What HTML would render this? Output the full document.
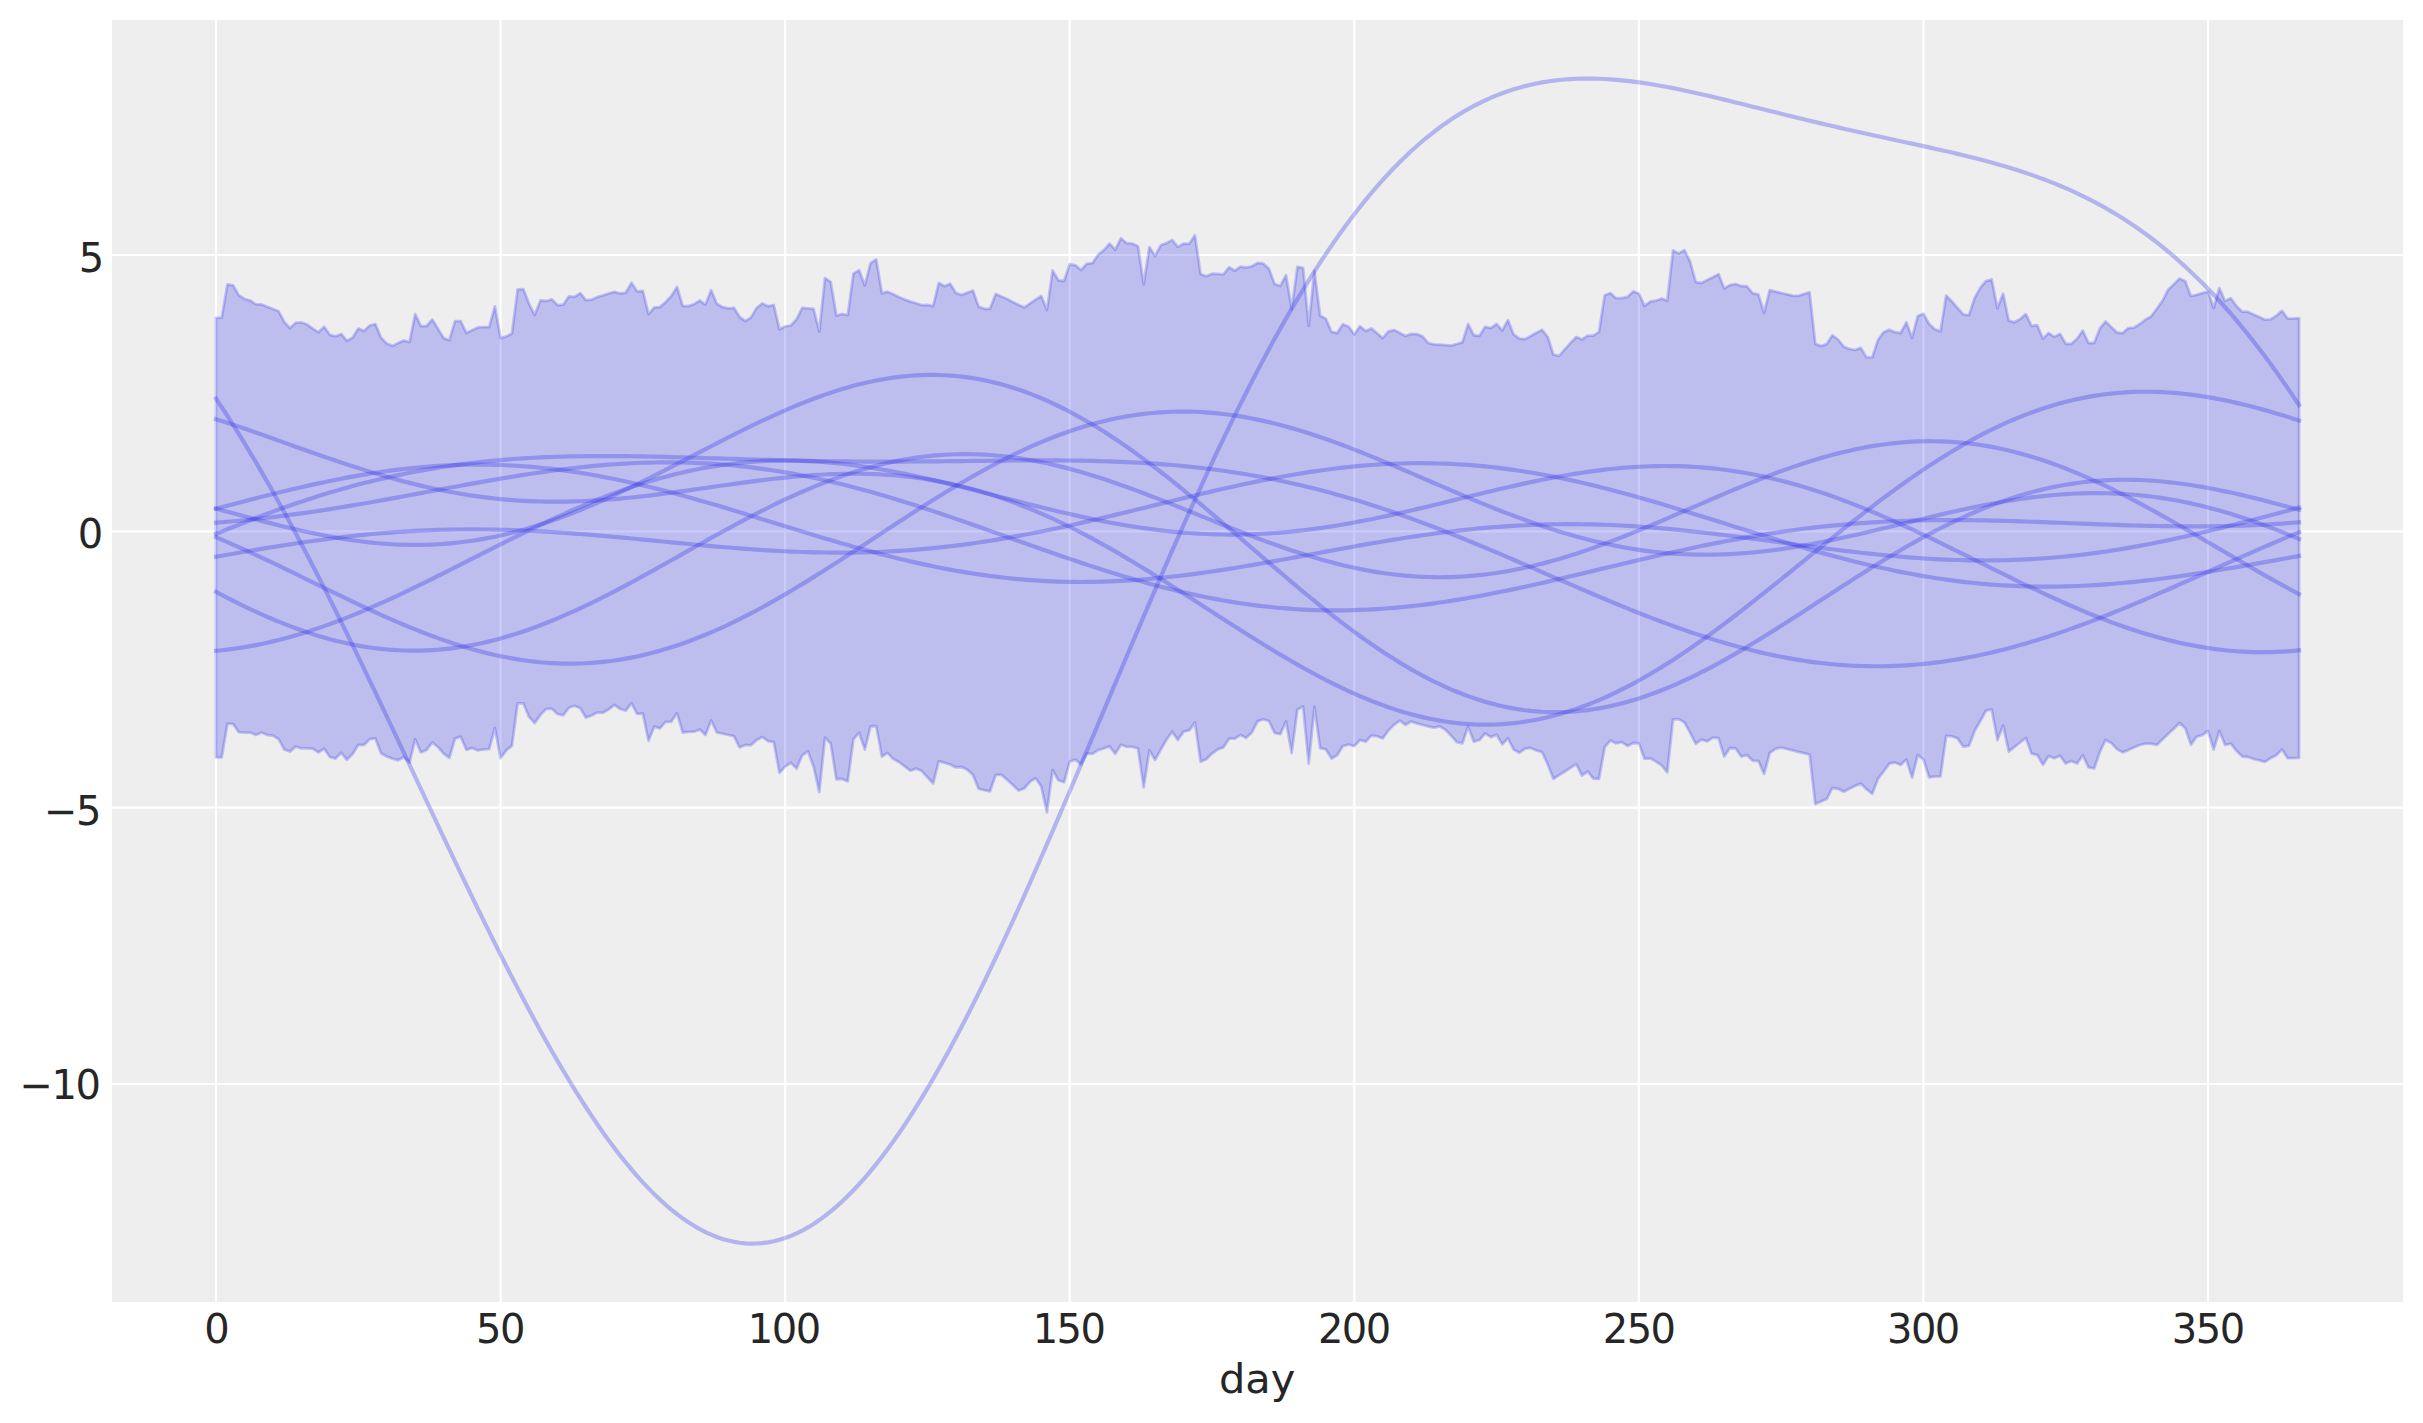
<!DOCTYPE html>
<html><head><meta charset="utf-8"><title>day plot</title>
<style>html,body{margin:0;padding:0;background:#fff;} svg{display:block;}</style>
</head><body>
<svg xmlns="http://www.w3.org/2000/svg" width="2423" height="1423" viewBox="0 0 2423 1423">
<rect x="0" y="0" width="2423" height="1423" fill="#ffffff"/>
<rect x="112" y="20" width="2291" height="1282" fill="#eeeeee"/>
<line x1="216" y1="20" x2="216" y2="1302" stroke="#ffffff" stroke-width="2.2"/>
<line x1="500.57" y1="20" x2="500.57" y2="1302" stroke="#ffffff" stroke-width="2.2"/>
<line x1="785.14" y1="20" x2="785.14" y2="1302" stroke="#ffffff" stroke-width="2.2"/>
<line x1="1069.71" y1="20" x2="1069.71" y2="1302" stroke="#ffffff" stroke-width="2.2"/>
<line x1="1354.29" y1="20" x2="1354.29" y2="1302" stroke="#ffffff" stroke-width="2.2"/>
<line x1="1638.86" y1="20" x2="1638.86" y2="1302" stroke="#ffffff" stroke-width="2.2"/>
<line x1="1923.43" y1="20" x2="1923.43" y2="1302" stroke="#ffffff" stroke-width="2.2"/>
<line x1="2208" y1="20" x2="2208" y2="1302" stroke="#ffffff" stroke-width="2.2"/>
<line x1="112" y1="255" x2="2403" y2="255" stroke="#ffffff" stroke-width="2.2"/>
<line x1="112" y1="531.33" x2="2403" y2="531.33" stroke="#ffffff" stroke-width="2.2"/>
<line x1="112" y1="807.67" x2="2403" y2="807.67" stroke="#ffffff" stroke-width="2.2"/>
<line x1="112" y1="1084" x2="2403" y2="1084" stroke="#ffffff" stroke-width="2.2"/>
<path d="M216 317.9 L221.69 317.7 L227.38 284.4 L233.07 285.3 L238.77 295.2 L244.46 298.9 L250.15 300.5 L255.84 304.3 L261.53 304.5 L267.22 306.7 L272.91 309 L278.61 311.3 L284.3 322 L289.99 328.2 L295.68 322.8 L301.37 322.4 L307.06 324.5 L312.75 328.6 L318.45 332.3 L324.14 326.8 L329.83 334.8 L335.52 336.4 L341.21 334 L346.9 340.8 L352.59 337.7 L358.29 328.6 L363.98 330.9 L369.67 325.5 L375.36 324.1 L381.05 337.7 L386.74 343.5 L392.43 345.9 L398.13 343 L403.82 340.6 L409.51 342.2 L415.2 314.2 L420.89 326.1 L426.58 326 L432.27 319.5 L437.97 328.8 L443.66 338.1 L449.35 340.2 L455.04 321.2 L460.73 321.2 L466.42 333.1 L472.11 330.3 L477.81 327.4 L483.5 327.1 L489.19 327 L494.88 306.3 L500.57 338.1 L506.26 336.4 L511.95 333.6 L517.65 289.4 L523.34 289.1 L529.03 303.8 L534.72 315 L540.41 300.5 L546.1 301 L551.79 299.3 L557.49 305.1 L563.18 304.7 L568.87 296.4 L574.56 296.8 L580.25 293.1 L585.94 300.1 L591.63 299.7 L597.33 297 L603.02 295.4 L608.71 293.5 L614.4 291.8 L620.09 293.5 L625.78 292.7 L631.47 282.7 L637.17 291.4 L642.86 291 L648.55 314.1 L654.24 307.5 L659.93 307.1 L665.62 302.1 L671.31 296 L677.01 286.9 L682.7 305.9 L688.39 306.1 L694.08 304.2 L699.77 300.5 L705.46 304.6 L711.15 290.2 L716.85 303.8 L722.54 307.1 L728.23 308.3 L733.92 307.8 L739.61 317 L745.3 321.1 L750.99 317.4 L756.69 307.9 L762.38 303.4 L768.07 306.3 L773.76 305 L779.45 329.3 L785.14 326.45 L790.83 325.5 L796.53 319.3 L802.22 307.8 L807.91 308.4 L813.6 309 L819.29 331.7 L824.98 278.1 L830.67 281.8 L836.37 315.6 L842.06 314 L847.75 315.2 L853.44 273.5 L859.13 270.2 L864.82 285.5 L870.51 263.2 L876.21 259.5 L881.9 293.3 L887.59 291.7 L893.28 294.2 L898.97 296.9 L904.66 299.5 L910.35 301.6 L916.05 303.2 L921.74 305.1 L927.43 304.9 L933.12 306.1 L938.81 283 L944.5 286.3 L950.19 283.8 L955.89 292.9 L961.58 295 L967.27 292.8 L972.96 290.5 L978.65 306.65 L984.34 308.8 L990.03 308.8 L995.73 293.9 L1001.42 296.6 L1007.11 299.1 L1012.8 301.9 L1018.49 304.7 L1024.18 307.5 L1029.87 303.6 L1035.57 299.7 L1041.26 296 L1046.95 310 L1052.64 270.4 L1058.33 280.3 L1064.02 281 L1069.71 264.2 L1075.41 265.3 L1081.1 270 L1086.79 263.8 L1092.48 263.1 L1098.17 254.7 L1103.86 250.2 L1109.55 243.6 L1115.25 249.8 L1120.94 238.2 L1126.63 243.2 L1132.32 243.6 L1138.01 246.3 L1143.7 284.4 L1149.39 247.1 L1155.09 256 L1160.78 245.2 L1166.47 243.15 L1172.16 239.9 L1177.85 246.9 L1183.54 243.6 L1189.23 243.8 L1194.93 235.3 L1200.62 274.1 L1206.31 276.2 L1212 273.7 L1217.69 273.9 L1223.38 274.4 L1229.07 267.3 L1234.77 270.8 L1240.46 266.7 L1246.15 267.5 L1251.84 266.3 L1257.53 263 L1263.22 263.4 L1268.91 268.7 L1274.61 284 L1280.3 285.95 L1285.99 275.3 L1291.68 309.1 L1297.37 267 L1303.06 267.8 L1308.75 325.9 L1314.45 270.95 L1320.14 315.8 L1325.83 318.7 L1331.52 331.8 L1337.21 333.1 L1342.9 324.2 L1348.59 326.7 L1354.29 334.3 L1359.98 326.3 L1365.67 330.9 L1371.36 328.4 L1377.05 333.3 L1382.74 338.1 L1388.43 331.4 L1394.13 330.1 L1399.82 333.1 L1405.51 336 L1411.2 333.9 L1416.89 334.1 L1422.58 336.4 L1428.27 343.2 L1433.97 344.3 L1439.66 344.6 L1445.35 345.1 L1451.04 345.7 L1456.73 344 L1462.42 342.3 L1468.11 324.2 L1473.81 335.25 L1479.5 335.85 L1485.19 326.8 L1490.88 328.1 L1496.57 323.9 L1502.26 330.6 L1507.95 320.1 L1513.65 334.4 L1519.34 338.6 L1525.03 339.1 L1530.72 336 L1536.41 332.7 L1542.1 329.8 L1547.79 337 L1553.49 354.7 L1559.18 355.9 L1564.87 349.2 L1570.56 342.9 L1576.25 337 L1581.94 339.5 L1587.63 335.7 L1593.33 335.7 L1599.02 331.9 L1604.71 295.2 L1610.4 293.1 L1616.09 298.2 L1621.78 298.2 L1627.47 296.9 L1633.17 291.4 L1638.86 293.5 L1644.55 305.8 L1650.24 301.6 L1655.93 300.7 L1661.62 298.6 L1667.31 300.7 L1673.01 250.5 L1678.7 253.5 L1684.39 250.1 L1690.08 261.5 L1695.77 282.2 L1701.46 283 L1707.15 280.1 L1712.85 277.2 L1718.54 274.1 L1724.23 288.5 L1729.92 285.1 L1735.61 284 L1741.3 286 L1746.99 286.5 L1752.69 293.3 L1758.38 294.4 L1764.07 312.9 L1769.76 290.2 L1775.45 291.6 L1781.14 293 L1786.83 294.3 L1792.53 295.6 L1798.22 295.8 L1803.91 294 L1809.6 292.3 L1815.29 343.7 L1820.98 346.1 L1826.67 344.1 L1832.37 335.3 L1838.06 339.5 L1843.75 346.7 L1849.44 348.95 L1855.13 350 L1860.82 347.9 L1866.51 357.4 L1872.21 357.4 L1877.9 340.1 L1883.59 332.2 L1889.28 329.7 L1894.97 332.2 L1900.66 333 L1906.35 322.3 L1912.05 338 L1917.74 316.1 L1923.43 313.7 L1929.12 324 L1934.81 329.3 L1940.5 331.4 L1946.19 295.5 L1951.89 301.5 L1957.58 307.9 L1963.27 314.5 L1968.96 315.1 L1974.65 298 L1980.34 287.7 L1986.03 281 L1991.73 279.4 L1997.42 308.3 L2003.11 293.8 L2008.8 320.7 L2014.49 322.3 L2020.18 319 L2025.87 314.1 L2031.57 326 L2037.26 325.2 L2042.95 338.8 L2048.64 333.1 L2054.33 336.8 L2060.02 333.9 L2065.71 343.8 L2071.41 343.8 L2077.1 338.8 L2082.79 330.6 L2088.48 343 L2094.17 343 L2099.86 328.5 L2105.55 321.5 L2111.25 327 L2116.94 332.6 L2122.63 333.1 L2128.32 328.1 L2134.01 327.7 L2139.7 324 L2145.39 319.8 L2151.09 316.5 L2156.78 308.7 L2162.47 300.9 L2168.16 289.7 L2173.85 284.3 L2179.54 278.6 L2185.23 281.15 L2190.93 296.15 L2196.62 294.85 L2202.31 293.05 L2208 291.75 L2213.69 308.05 L2219.38 288.15 L2225.07 301.05 L2230.77 298.2 L2236.46 306 L2242.15 311.7 L2247.84 311.7 L2253.53 314.4 L2259.22 317.1 L2264.91 319.7 L2270.61 319.4 L2276.3 315.7 L2281.99 310.8 L2287.68 318.6 L2293.37 318.6 L2299.06 318.1 L2299.06 757.8 L2293.37 758.2 L2287.68 758.2 L2281.99 749.5 L2276.3 755.3 L2270.61 758.2 L2264.91 761.9 L2259.22 760.3 L2253.53 759 L2247.84 757 L2242.15 756.5 L2236.46 750.8 L2230.77 743.7 L2225.07 745 L2219.38 731 L2213.69 749.5 L2208 731 L2202.31 735.1 L2196.62 736.7 L2190.93 744.6 L2185.23 728.1 L2179.54 723.1 L2173.85 728.7 L2168.16 734 L2162.47 739.6 L2156.78 745 L2151.09 743.7 L2145.39 743.7 L2139.7 745 L2134.01 747.6 L2128.32 750.1 L2122.63 752.4 L2116.94 749.1 L2111.25 742.9 L2105.55 740 L2099.86 752 L2094.17 768.5 L2088.48 767.3 L2082.79 755.3 L2077.1 763.6 L2071.41 761.1 L2065.71 763.6 L2060.02 755.7 L2054.33 758.2 L2048.64 756.1 L2042.95 764.8 L2037.26 754.9 L2031.57 753.7 L2025.87 738 L2020.18 742.5 L2014.49 747 L2008.8 751.6 L2003.11 725.6 L1997.42 740 L1991.73 709.5 L1986.03 710.7 L1980.34 721 L1974.65 731 L1968.96 745.8 L1963.27 746.6 L1957.58 738.4 L1951.89 736.3 L1946.19 735.9 L1940.5 776.4 L1934.81 776.6 L1929.12 777.25 L1923.43 759.45 L1917.74 755 L1912.05 777.7 L1906.35 759.5 L1900.66 764.9 L1894.97 762.4 L1889.28 763.7 L1883.59 771.5 L1877.9 778.9 L1872.21 793.8 L1866.51 789.2 L1860.82 783.5 L1855.13 785.9 L1849.44 788.8 L1843.75 791.7 L1838.06 788.8 L1832.37 788 L1826.67 799.1 L1820.98 801.6 L1815.29 804.1 L1809.6 754.6 L1803.91 753.2 L1798.22 751.8 L1792.53 750.4 L1786.83 749 L1781.14 747.6 L1775.45 748.8 L1769.76 752.9 L1764.07 774 L1758.38 760.8 L1752.69 760.8 L1746.99 755 L1741.3 756.6 L1735.61 748.4 L1729.92 748 L1724.23 756.6 L1718.54 738.1 L1712.85 737.7 L1707.15 741.4 L1701.46 739.7 L1695.77 743.8 L1690.08 732.7 L1684.39 722.4 L1678.7 719.1 L1673.01 719.5 L1667.31 772.3 L1661.62 765.3 L1655.93 761.6 L1650.24 758.3 L1644.55 758.7 L1638.86 743.4 L1633.17 743 L1627.47 745.9 L1621.78 742.2 L1616.09 743.4 L1610.4 740.5 L1604.71 747.1 L1599.02 778.9 L1593.33 778.5 L1587.63 771.5 L1581.94 775.6 L1576.25 764.1 L1570.56 767.8 L1564.87 771.5 L1559.18 775.1 L1553.49 778.9 L1547.79 764.45 L1542.1 752.25 L1536.41 750.4 L1530.72 747.9 L1525.03 748.7 L1519.34 752.8 L1513.65 749.5 L1507.95 738.4 L1502.26 744.2 L1496.57 734.7 L1490.88 737.1 L1485.19 733.4 L1479.5 740 L1473.81 741.7 L1468.11 726.4 L1462.42 743.3 L1456.73 742.1 L1451.04 735.7 L1445.35 729.7 L1439.66 726.4 L1433.97 727.7 L1428.27 726.4 L1422.58 724.8 L1416.89 723.4 L1411.2 721.5 L1405.51 724.8 L1399.82 720.6 L1394.13 724.8 L1388.43 730.5 L1382.74 738.4 L1377.05 736.3 L1371.36 735.5 L1365.67 741.7 L1359.98 740 L1354.29 746.15 L1348.59 744.5 L1342.9 746.1 L1337.21 755.2 L1331.52 758.5 L1325.83 749.4 L1320.14 748.2 L1314.45 706.9 L1308.75 763.5 L1303.06 706.5 L1297.37 709.8 L1291.68 753.1 L1285.99 721.4 L1280.3 734.2 L1274.61 732.9 L1268.91 721 L1263.22 719.3 L1257.53 721.4 L1251.84 732.5 L1246.15 737.9 L1240.46 735 L1234.77 738.7 L1229.07 738.7 L1223.38 747.4 L1217.69 749.4 L1212 753.6 L1206.31 759.3 L1200.62 761.8 L1194.93 722.6 L1189.23 730.4 L1183.54 731.7 L1177.85 739.9 L1172.16 731.7 L1166.47 739.7 L1160.78 749.6 L1155.09 760 L1149.39 750.5 L1143.7 787.3 L1138.01 748.5 L1132.32 746.8 L1126.63 746.8 L1120.94 744.8 L1115.25 753.8 L1109.55 746.4 L1103.86 748.5 L1098.17 750.1 L1092.48 753.8 L1086.79 753.4 L1081.1 764.6 L1075.41 759.6 L1069.71 761.7 L1064.02 782.3 L1058.33 780.3 L1052.64 769.9 L1046.95 812.4 L1041.26 786.4 L1035.57 778.2 L1029.87 781.9 L1024.18 788.5 L1018.49 790.6 L1012.8 785 L1007.11 779.8 L1001.42 774.9 L995.73 774.9 L990.03 791.4 L984.34 790.2 L978.65 788.85 L972.96 775.05 L967.27 769.8 L961.58 767 L955.89 767.4 L950.19 764.5 L944.5 762.8 L938.81 761.2 L933.12 783.5 L927.43 777.2 L921.74 771.1 L916.05 768.6 L910.35 770.7 L904.66 766.4 L898.97 762 L893.28 759.1 L887.59 752.9 L881.9 756.6 L876.21 726.1 L870.51 726.5 L864.82 749.6 L859.13 732.7 L853.44 739.3 L847.75 781.4 L842.06 778.9 L836.37 779.3 L830.67 743.4 L824.98 737.7 L819.29 792.1 L813.6 766.5 L807.91 751.3 L802.22 755.4 L796.53 768.6 L790.83 762.8 L785.14 766.65 L779.45 772.85 L773.76 742 L768.07 741.2 L762.38 737 L756.69 739.9 L750.99 745.3 L745.3 744.9 L739.61 747.4 L733.92 736.2 L728.23 735 L722.54 733.7 L716.85 732.5 L711.15 720.5 L705.46 735 L699.77 729.6 L694.08 731.7 L688.39 731.9 L682.7 732.5 L677.01 713.1 L671.31 721.8 L665.62 721.8 L659.93 728.4 L654.24 726.7 L648.55 740.8 L642.86 713.5 L637.17 713.9 L631.47 703.2 L625.78 710.6 L620.09 709 L614.4 704.9 L608.71 709.4 L603.02 712.7 L597.33 712.55 L591.63 715.45 L585.94 717.7 L580.25 708.3 L574.56 705.8 L568.87 707.8 L563.18 715.3 L557.49 714 L551.79 708.7 L546.1 709.1 L540.41 714.9 L534.72 723.1 L529.03 716.9 L523.34 703.3 L517.65 703.3 L511.95 745.8 L506.26 750.4 L500.57 758.2 L494.88 728.1 L489.19 749.1 L483.5 749.5 L477.81 750.4 L472.11 747.9 L466.42 749.9 L460.73 736.7 L455.04 738.4 L449.35 757.8 L443.66 753.7 L437.97 747 L432.27 742.5 L426.58 749.9 L420.89 752.4 L415.2 739.2 L409.51 762.7 L403.82 757 L398.13 760.3 L392.43 758.6 L386.74 756.5 L381.05 753.2 L375.36 738.4 L369.67 739.2 L363.98 745 L358.29 745 L352.59 754.1 L346.9 759.8 L341.21 752.8 L335.52 758.6 L329.83 757 L324.14 748.7 L318.45 752.4 L312.75 748.7 L307.06 748.3 L301.37 748.3 L295.68 746.6 L289.99 751.6 L284.3 749.5 L278.61 739.2 L272.91 735.5 L267.22 735.1 L261.53 732.6 L255.84 735.1 L250.15 732.6 L244.46 732.6 L238.77 732.2 L233.07 723.9 L227.38 723.9 L221.69 757.4 L216 757.4 Z" fill="rgba(42,46,236,0.25)" stroke="rgba(42,46,236,0.25)" stroke-width="2.78" stroke-linejoin="round"/>
<path d="M216 398.6 L221.69 407.19 L227.38 415.95 L233.07 424.87 L238.77 433.96 L244.46 443.21 L250.15 452.62 L255.84 462.18 L261.53 471.9 L267.22 481.77 L272.91 491.78 L278.61 501.94 L284.3 512.24 L289.99 522.67 L295.68 533.24 L301.37 543.94 L307.06 554.76 L312.75 565.69 L318.45 576.75 L324.14 587.91 L329.83 599.18 L335.52 610.55 L341.21 622.01 L346.9 633.56 L352.59 645.2 L358.29 656.91 L363.98 668.69 L369.67 680.53 L375.36 692.44 L381.05 704.39 L386.74 716.4 L392.43 728.43 L398.13 740.51 L403.82 752.6 L409.51 764.71 L415.2 776.84 L420.89 788.96 L426.58 801.08 L432.27 813.19 L437.97 825.28 L443.66 837.35 L449.35 849.37 L455.04 861.36 L460.73 873.29 L466.42 885.17 L472.11 896.98 L477.81 908.72 L483.5 920.37 L489.19 931.94 L494.88 943.41 L500.57 954.77 L506.26 966.02 L511.95 977.14 L517.65 988.14 L523.34 999 L529.03 1009.72 L534.72 1020.28 L540.41 1030.69 L546.1 1040.92 L551.79 1050.98 L557.49 1060.86 L563.18 1070.55 L568.87 1080.04 L574.56 1089.32 L580.25 1098.4 L585.94 1107.25 L591.63 1115.88 L597.33 1124.28 L603.02 1132.44 L608.71 1140.36 L614.4 1148.02 L620.09 1155.43 L625.78 1162.57 L631.47 1169.44 L637.17 1176.04 L642.86 1182.36 L648.55 1188.4 L654.24 1194.14 L659.93 1199.59 L665.62 1204.74 L671.31 1209.59 L677.01 1214.13 L682.7 1218.36 L688.39 1222.27 L694.08 1225.86 L699.77 1229.13 L705.46 1232.07 L711.15 1234.69 L716.85 1236.98 L722.54 1238.93 L728.23 1240.54 L733.92 1241.82 L739.61 1242.76 L745.3 1243.36 L750.99 1243.62 L756.69 1243.54 L762.38 1243.12 L768.07 1242.35 L773.76 1241.24 L779.45 1239.78 L785.14 1237.99 L790.83 1235.85 L796.53 1233.38 L802.22 1230.56 L807.91 1227.41 L813.6 1223.92 L819.29 1220.09 L824.98 1215.94 L830.67 1211.46 L836.37 1206.65 L842.06 1201.51 L847.75 1196.06 L853.44 1190.29 L859.13 1184.21 L864.82 1177.81 L870.51 1171.12 L876.21 1164.12 L881.9 1156.83 L887.59 1149.24 L893.28 1141.37 L898.97 1133.22 L904.66 1124.8 L910.35 1116.11 L916.05 1107.15 L921.74 1097.93 L927.43 1088.47 L933.12 1078.75 L938.81 1068.81 L944.5 1058.62 L950.19 1048.22 L955.89 1037.59 L961.58 1026.76 L967.27 1015.72 L972.96 1004.49 L978.65 993.07 L984.34 981.46 L990.03 969.69 L995.73 957.75 L1001.42 945.65 L1007.11 933.4 L1012.8 921.02 L1018.49 908.49 L1024.18 895.85 L1029.87 883.09 L1035.57 870.22 L1041.26 857.25 L1046.95 844.19 L1052.64 831.05 L1058.33 817.83 L1064.02 804.55 L1069.71 791.21 L1075.41 777.82 L1081.1 764.39 L1086.79 750.93 L1092.48 737.45 L1098.17 723.95 L1103.86 710.44 L1109.55 696.93 L1115.25 683.43 L1120.94 669.95 L1126.63 656.5 L1132.32 643.07 L1138.01 629.69 L1143.7 616.36 L1149.39 603.08 L1155.09 589.87 L1160.78 576.73 L1166.47 563.66 L1172.16 550.68 L1177.85 537.8 L1183.54 525.01 L1189.23 512.33 L1194.93 499.76 L1200.62 487.31 L1206.31 474.98 L1212 462.79 L1217.69 450.73 L1223.38 438.82 L1229.07 427.05 L1234.77 415.44 L1240.46 403.98 L1246.15 392.69 L1251.84 381.57 L1257.53 370.62 L1263.22 359.85 L1268.91 349.26 L1274.61 338.85 L1280.3 328.63 L1285.99 318.61 L1291.68 308.78 L1297.37 299.15 L1303.06 289.72 L1308.75 280.49 L1314.45 271.47 L1320.14 262.66 L1325.83 254.06 L1331.52 245.68 L1337.21 237.5 L1342.9 229.55 L1348.59 221.81 L1354.29 214.28 L1359.98 206.98 L1365.67 199.89 L1371.36 193.03 L1377.05 186.38 L1382.74 179.95 L1388.43 173.74 L1394.13 167.74 L1399.82 161.97 L1405.51 156.41 L1411.2 151.06 L1416.89 145.93 L1422.58 141.01 L1428.27 136.31 L1433.97 131.81 L1439.66 127.51 L1445.35 123.43 L1451.04 119.54 L1456.73 115.85 L1462.42 112.37 L1468.11 109.07 L1473.81 105.97 L1479.5 103.05 L1485.19 100.32 L1490.88 97.78 L1496.57 95.41 L1502.26 93.21 L1507.95 91.19 L1513.65 89.33 L1519.34 87.64 L1525.03 86.1 L1530.72 84.72 L1536.41 83.5 L1542.1 82.42 L1547.79 81.48 L1553.49 80.68 L1559.18 80.02 L1564.87 79.49 L1570.56 79.08 L1576.25 78.79 L1581.94 78.62 L1587.63 78.56 L1593.33 78.61 L1599.02 78.76 L1604.71 79.02 L1610.4 79.36 L1616.09 79.8 L1621.78 80.32 L1627.47 80.92 L1633.17 81.6 L1638.86 82.36 L1644.55 83.18 L1650.24 84.06 L1655.93 85.01 L1661.62 86.01 L1667.31 87.06 L1673.01 88.16 L1678.7 89.3 L1684.39 90.49 L1690.08 91.71 L1695.77 92.97 L1701.46 94.25 L1707.15 95.56 L1712.85 96.9 L1718.54 98.25 L1724.23 99.63 L1729.92 101.01 L1735.61 102.41 L1741.3 103.82 L1746.99 105.24 L1752.69 106.66 L1758.38 108.08 L1764.07 109.5 L1769.76 110.92 L1775.45 112.34 L1781.14 113.75 L1786.83 115.16 L1792.53 116.55 L1798.22 117.94 L1803.91 119.32 L1809.6 120.69 L1815.29 122.05 L1820.98 123.4 L1826.67 124.74 L1832.37 126.06 L1838.06 127.37 L1843.75 128.67 L1849.44 129.96 L1855.13 131.24 L1860.82 132.51 L1866.51 133.77 L1872.21 135.02 L1877.9 136.26 L1883.59 137.5 L1889.28 138.74 L1894.97 139.97 L1900.66 141.2 L1906.35 142.43 L1912.05 143.66 L1917.74 144.89 L1923.43 146.14 L1929.12 147.39 L1934.81 148.66 L1940.5 149.94 L1946.19 151.23 L1951.89 152.55 L1957.58 153.89 L1963.27 155.25 L1968.96 156.65 L1974.65 158.07 L1980.34 159.53 L1986.03 161.04 L1991.73 162.58 L1997.42 164.17 L2003.11 165.81 L2008.8 167.5 L2014.49 169.24 L2020.18 171.05 L2025.87 172.93 L2031.57 174.87 L2037.26 176.88 L2042.95 178.97 L2048.64 181.13 L2054.33 183.39 L2060.02 185.72 L2065.71 188.15 L2071.41 190.68 L2077.1 193.3 L2082.79 196.02 L2088.48 198.86 L2094.17 201.8 L2099.86 204.85 L2105.55 208.03 L2111.25 211.32 L2116.94 214.74 L2122.63 218.28 L2128.32 221.96 L2134.01 225.77 L2139.7 229.72 L2145.39 233.81 L2151.09 238.04 L2156.78 242.42 L2162.47 246.95 L2168.16 251.63 L2173.85 256.46 L2179.54 261.45 L2185.23 266.6 L2190.93 271.91 L2196.62 277.38 L2202.31 283.02 L2208 288.83 L2213.69 294.8 L2219.38 300.94 L2225.07 307.26 L2230.77 313.74 L2236.46 320.4 L2242.15 327.22 L2247.84 334.23 L2253.53 341.4 L2259.22 348.75 L2264.91 356.27 L2270.61 363.97 L2276.3 371.84 L2281.99 379.88 L2287.68 388.09 L2293.37 396.47 L2299.06 405.02" fill="none" stroke="rgba(42,46,236,0.3)" stroke-width="4.17" stroke-linejoin="round" stroke-linecap="square"/>
<path d="M216 419.11 L221.69 420.94 L227.38 422.81 L233.07 424.71 L238.77 426.63 L244.46 428.58 L250.15 430.55 L255.84 432.53 L261.53 434.53 L267.22 436.54 L272.91 438.56 L278.61 440.59 L284.3 442.62 L289.99 444.65 L295.68 446.68 L301.37 448.7 L307.06 450.72 L312.75 452.72 L318.45 454.72 L324.14 456.69 L329.83 458.65 L335.52 460.59 L341.21 462.5 L346.9 464.39 L352.59 466.25 L358.29 468.08 L363.98 469.88 L369.67 471.64 L375.36 473.37 L381.05 475.06 L386.74 476.7 L392.43 478.31 L398.13 479.87 L403.82 481.39 L409.51 482.86 L415.2 484.28 L420.89 485.65 L426.58 486.97 L432.27 488.24 L437.97 489.45 L443.66 490.61 L449.35 491.72 L455.04 492.77 L460.73 493.76 L466.42 494.69 L472.11 495.57 L477.81 496.39 L483.5 497.14 L489.19 497.84 L494.88 498.48 L500.57 499.07 L506.26 499.59 L511.95 500.05 L517.65 500.46 L523.34 500.8 L529.03 501.09 L534.72 501.32 L540.41 501.5 L546.1 501.61 L551.79 501.68 L557.49 501.69 L563.18 501.64 L568.87 501.55 L574.56 501.4 L580.25 501.21 L585.94 500.96 L591.63 500.67 L597.33 500.34 L603.02 499.96 L608.71 499.54 L614.4 499.08 L620.09 498.58 L625.78 498.04 L631.47 497.47 L637.17 496.87 L642.86 496.24 L648.55 495.58 L654.24 494.89 L659.93 494.18 L665.62 493.45 L671.31 492.7 L677.01 491.94 L682.7 491.16 L688.39 490.36 L694.08 489.56 L699.77 488.75 L705.46 487.94 L711.15 487.12 L716.85 486.31 L722.54 485.5 L728.23 484.7 L733.92 483.9 L739.61 483.12 L745.3 482.35 L750.99 481.59 L756.69 480.86 L762.38 480.15 L768.07 479.46 L773.76 478.79 L779.45 478.16 L785.14 477.56 L790.83 477 L796.53 476.47 L802.22 475.98 L807.91 475.53 L813.6 475.13 L819.29 474.77 L824.98 474.46 L830.67 474.2 L836.37 473.99 L842.06 473.84 L847.75 473.75 L853.44 473.72 L859.13 473.74 L864.82 473.83 L870.51 473.98 L876.21 474.2 L881.9 474.49 L887.59 474.84 L893.28 475.27 L898.97 475.77 L904.66 476.34 L910.35 476.98 L916.05 477.7 L921.74 478.5 L927.43 479.37 L933.12 480.33 L938.81 481.36 L944.5 482.47 L950.19 483.66 L955.89 484.93 L961.58 486.28 L967.27 487.71 L972.96 489.22 L978.65 490.82 L984.34 492.49 L990.03 494.25 L995.73 496.08 L1001.42 497.99 L1007.11 499.99 L1012.8 502.06 L1018.49 504.21 L1024.18 506.44 L1029.87 508.74 L1035.57 511.12 L1041.26 513.57 L1046.95 516.09 L1052.64 518.69 L1058.33 521.35 L1064.02 524.08 L1069.71 526.88 L1075.41 529.75 L1081.1 532.67 L1086.79 535.66 L1092.48 538.71 L1098.17 541.81 L1103.86 544.97 L1109.55 548.17 L1115.25 551.43 L1120.94 554.74 L1126.63 558.09 L1132.32 561.48 L1138.01 564.92 L1143.7 568.39 L1149.39 571.89 L1155.09 575.42 L1160.78 578.99 L1166.47 582.58 L1172.16 586.19 L1177.85 589.81 L1183.54 593.46 L1189.23 597.12 L1194.93 600.78 L1200.62 604.46 L1206.31 608.13 L1212 611.81 L1217.69 615.48 L1223.38 619.15 L1229.07 622.8 L1234.77 626.44 L1240.46 630.06 L1246.15 633.66 L1251.84 637.24 L1257.53 640.79 L1263.22 644.31 L1268.91 647.79 L1274.61 651.24 L1280.3 654.64 L1285.99 658 L1291.68 661.31 L1297.37 664.57 L1303.06 667.78 L1308.75 670.93 L1314.45 674.01 L1320.14 677.03 L1325.83 679.99 L1331.52 682.87 L1337.21 685.68 L1342.9 688.42 L1348.59 691.07 L1354.29 693.64 L1359.98 696.13 L1365.67 698.52 L1371.36 700.83 L1377.05 703.05 L1382.74 705.16 L1388.43 707.19 L1394.13 709.11 L1399.82 710.92 L1405.51 712.64 L1411.2 714.24 L1416.89 715.74 L1422.58 717.13 L1428.27 718.4 L1433.97 719.56 L1439.66 720.6 L1445.35 721.53 L1451.04 722.34 L1456.73 723.03 L1462.42 723.6 L1468.11 724.04 L1473.81 724.37 L1479.5 724.57 L1485.19 724.64 L1490.88 724.59 L1496.57 724.42 L1502.26 724.12 L1507.95 723.69 L1513.65 723.14 L1519.34 722.46 L1525.03 721.66 L1530.72 720.73 L1536.41 719.68 L1542.1 718.5 L1547.79 717.2 L1553.49 715.77 L1559.18 714.23 L1564.87 712.56 L1570.56 710.77 L1576.25 708.86 L1581.94 706.83 L1587.63 704.69 L1593.33 702.43 L1599.02 700.06 L1604.71 697.58 L1610.4 694.99 L1616.09 692.29 L1621.78 689.49 L1627.47 686.58 L1633.17 683.57 L1638.86 680.46 L1644.55 677.26 L1650.24 673.96 L1655.93 670.58 L1661.62 667.1 L1667.31 663.54 L1673.01 659.89 L1678.7 656.17 L1684.39 652.37 L1690.08 648.49 L1695.77 644.55 L1701.46 640.54 L1707.15 636.46 L1712.85 632.33 L1718.54 628.13 L1724.23 623.88 L1729.92 619.59 L1735.61 615.24 L1741.3 610.86 L1746.99 606.43 L1752.69 601.97 L1758.38 597.47 L1764.07 592.95 L1769.76 588.4 L1775.45 583.83 L1781.14 579.25 L1786.83 574.65 L1792.53 570.04 L1798.22 565.42 L1803.91 560.8 L1809.6 556.19 L1815.29 551.57 L1820.98 546.97 L1826.67 542.38 L1832.37 537.8 L1838.06 533.25 L1843.75 528.72 L1849.44 524.21 L1855.13 519.74 L1860.82 515.3 L1866.51 510.9 L1872.21 506.53 L1877.9 502.21 L1883.59 497.94 L1889.28 493.72 L1894.97 489.56 L1900.66 485.45 L1906.35 481.4 L1912.05 477.41 L1917.74 473.49 L1923.43 469.63 L1929.12 465.85 L1934.81 462.14 L1940.5 458.51 L1946.19 454.95 L1951.89 451.48 L1957.58 448.09 L1963.27 444.79 L1968.96 441.57 L1974.65 438.45 L1980.34 435.41 L1986.03 432.47 L1991.73 429.62 L1997.42 426.87 L2003.11 424.22 L2008.8 421.67 L2014.49 419.22 L2020.18 416.86 L2025.87 414.62 L2031.57 412.47 L2037.26 410.43 L2042.95 408.5 L2048.64 406.67 L2054.33 404.94 L2060.02 403.33 L2065.71 401.82 L2071.41 400.41 L2077.1 399.12 L2082.79 397.93 L2088.48 396.84 L2094.17 395.87 L2099.86 394.99 L2105.55 394.23 L2111.25 393.56 L2116.94 393.01 L2122.63 392.55 L2128.32 392.2 L2134.01 391.94 L2139.7 391.79 L2145.39 391.74 L2151.09 391.78 L2156.78 391.92 L2162.47 392.15 L2168.16 392.47 L2173.85 392.89 L2179.54 393.39 L2185.23 393.98 L2190.93 394.65 L2196.62 395.41 L2202.31 396.25 L2208 397.17 L2213.69 398.16 L2219.38 399.23 L2225.07 400.37 L2230.77 401.57 L2236.46 402.85 L2242.15 404.19 L2247.84 405.58 L2253.53 407.04 L2259.22 408.56 L2264.91 410.12 L2270.61 411.74 L2276.3 413.4 L2281.99 415.11 L2287.68 416.87 L2293.37 418.66 L2299.06 420.48" fill="none" stroke="rgba(42,46,236,0.3)" stroke-width="4.17" stroke-linejoin="round" stroke-linecap="square"/>
<path d="M216 508.75 L221.69 507.24 L227.38 505.73 L233.07 504.23 L238.77 502.74 L244.46 501.25 L250.15 499.77 L255.84 498.31 L261.53 496.85 L267.22 495.41 L272.91 493.99 L278.61 492.59 L284.3 491.2 L289.99 489.84 L295.68 488.5 L301.37 487.18 L307.06 485.88 L312.75 484.62 L318.45 483.38 L324.14 482.17 L329.83 480.99 L335.52 479.84 L341.21 478.73 L346.9 477.65 L352.59 476.6 L358.29 475.6 L363.98 474.63 L369.67 473.7 L375.36 472.81 L381.05 471.96 L386.74 471.15 L392.43 470.39 L398.13 469.67 L403.82 468.99 L409.51 468.36 L415.2 467.78 L420.89 467.25 L426.58 466.76 L432.27 466.32 L437.97 465.93 L443.66 465.59 L449.35 465.31 L455.04 465.07 L460.73 464.88 L466.42 464.74 L472.11 464.66 L477.81 464.63 L483.5 464.65 L489.19 464.72 L494.88 464.84 L500.57 465.02 L506.26 465.25 L511.95 465.53 L517.65 465.86 L523.34 466.25 L529.03 466.68 L534.72 467.17 L540.41 467.71 L546.1 468.3 L551.79 468.94 L557.49 469.62 L563.18 470.36 L568.87 471.15 L574.56 471.98 L580.25 472.86 L585.94 473.78 L591.63 474.75 L597.33 475.77 L603.02 476.83 L608.71 477.93 L614.4 479.07 L620.09 480.25 L625.78 481.48 L631.47 482.74 L637.17 484.03 L642.86 485.37 L648.55 486.74 L654.24 488.14 L659.93 489.57 L665.62 491.04 L671.31 492.53 L677.01 494.05 L682.7 495.6 L688.39 497.17 L694.08 498.77 L699.77 500.39 L705.46 502.03 L711.15 503.69 L716.85 505.36 L722.54 507.06 L728.23 508.76 L733.92 510.48 L739.61 512.21 L745.3 513.95 L750.99 515.7 L756.69 517.45 L762.38 519.21 L768.07 520.97 L773.76 522.74 L779.45 524.5 L785.14 526.26 L790.83 528.02 L796.53 529.77 L802.22 531.51 L807.91 533.25 L813.6 534.98 L819.29 536.69 L824.98 538.39 L830.67 540.08 L836.37 541.75 L842.06 543.4 L847.75 545.04 L853.44 546.65 L859.13 548.24 L864.82 549.81 L870.51 551.35 L876.21 552.87 L881.9 554.36 L887.59 555.82 L893.28 557.25 L898.97 558.65 L904.66 560.01 L910.35 561.35 L916.05 562.65 L921.74 563.91 L927.43 565.13 L933.12 566.32 L938.81 567.47 L944.5 568.58 L950.19 569.65 L955.89 570.68 L961.58 571.67 L967.27 572.61 L972.96 573.51 L978.65 574.37 L984.34 575.18 L990.03 575.95 L995.73 576.68 L1001.42 577.35 L1007.11 577.99 L1012.8 578.57 L1018.49 579.11 L1024.18 579.6 L1029.87 580.05 L1035.57 580.45 L1041.26 580.8 L1046.95 581.1 L1052.64 581.36 L1058.33 581.57 L1064.02 581.74 L1069.71 581.86 L1075.41 581.93 L1081.1 581.96 L1086.79 581.94 L1092.48 581.88 L1098.17 581.77 L1103.86 581.62 L1109.55 581.43 L1115.25 581.19 L1120.94 580.91 L1126.63 580.59 L1132.32 580.23 L1138.01 579.84 L1143.7 579.4 L1149.39 578.92 L1155.09 578.41 L1160.78 577.86 L1166.47 577.28 L1172.16 576.66 L1177.85 576.01 L1183.54 575.33 L1189.23 574.61 L1194.93 573.87 L1200.62 573.1 L1206.31 572.3 L1212 571.48 L1217.69 570.63 L1223.38 569.76 L1229.07 568.86 L1234.77 567.95 L1240.46 567.01 L1246.15 566.06 L1251.84 565.09 L1257.53 564.11 L1263.22 563.11 L1268.91 562.1 L1274.61 561.08 L1280.3 560.05 L1285.99 559.01 L1291.68 557.97 L1297.37 556.92 L1303.06 555.86 L1308.75 554.81 L1314.45 553.75 L1320.14 552.69 L1325.83 551.64 L1331.52 550.59 L1337.21 549.54 L1342.9 548.5 L1348.59 547.46 L1354.29 546.44 L1359.98 545.42 L1365.67 544.42 L1371.36 543.42 L1377.05 542.45 L1382.74 541.48 L1388.43 540.54 L1394.13 539.61 L1399.82 538.7 L1405.51 537.8 L1411.2 536.93 L1416.89 536.08 L1422.58 535.26 L1428.27 534.46 L1433.97 533.68 L1439.66 532.93 L1445.35 532.2 L1451.04 531.5 L1456.73 530.83 L1462.42 530.19 L1468.11 529.58 L1473.81 529 L1479.5 528.45 L1485.19 527.93 L1490.88 527.44 L1496.57 526.99 L1502.26 526.56 L1507.95 526.17 L1513.65 525.82 L1519.34 525.5 L1525.03 525.21 L1530.72 524.96 L1536.41 524.74 L1542.1 524.55 L1547.79 524.4 L1553.49 524.29 L1559.18 524.21 L1564.87 524.16 L1570.56 524.15 L1576.25 524.17 L1581.94 524.23 L1587.63 524.32 L1593.33 524.44 L1599.02 524.6 L1604.71 524.79 L1610.4 525.01 L1616.09 525.26 L1621.78 525.54 L1627.47 525.86 L1633.17 526.2 L1638.86 526.57 L1644.55 526.97 L1650.24 527.4 L1655.93 527.85 L1661.62 528.33 L1667.31 528.84 L1673.01 529.36 L1678.7 529.92 L1684.39 530.49 L1690.08 531.08 L1695.77 531.7 L1701.46 532.33 L1707.15 532.98 L1712.85 533.65 L1718.54 534.33 L1724.23 535.03 L1729.92 535.74 L1735.61 536.46 L1741.3 537.19 L1746.99 537.94 L1752.69 538.69 L1758.38 539.44 L1764.07 540.2 L1769.76 540.97 L1775.45 541.74 L1781.14 542.51 L1786.83 543.28 L1792.53 544.05 L1798.22 544.82 L1803.91 545.58 L1809.6 546.34 L1815.29 547.09 L1820.98 547.83 L1826.67 548.56 L1832.37 549.29 L1838.06 550 L1843.75 550.7 L1849.44 551.38 L1855.13 552.05 L1860.82 552.7 L1866.51 553.33 L1872.21 553.94 L1877.9 554.54 L1883.59 555.11 L1889.28 555.65 L1894.97 556.18 L1900.66 556.67 L1906.35 557.15 L1912.05 557.59 L1917.74 558 L1923.43 558.39 L1929.12 558.75 L1934.81 559.07 L1940.5 559.36 L1946.19 559.62 L1951.89 559.85 L1957.58 560.04 L1963.27 560.2 L1968.96 560.32 L1974.65 560.4 L1980.34 560.45 L1986.03 560.46 L1991.73 560.43 L1997.42 560.37 L2003.11 560.26 L2008.8 560.11 L2014.49 559.93 L2020.18 559.7 L2025.87 559.44 L2031.57 559.14 L2037.26 558.79 L2042.95 558.4 L2048.64 557.98 L2054.33 557.51 L2060.02 557.01 L2065.71 556.46 L2071.41 555.87 L2077.1 555.25 L2082.79 554.58 L2088.48 553.88 L2094.17 553.13 L2099.86 552.35 L2105.55 551.53 L2111.25 550.68 L2116.94 549.78 L2122.63 548.86 L2128.32 547.89 L2134.01 546.89 L2139.7 545.86 L2145.39 544.8 L2151.09 543.7 L2156.78 542.57 L2162.47 541.41 L2168.16 540.22 L2173.85 539.01 L2179.54 537.76 L2185.23 536.49 L2190.93 535.2 L2196.62 533.88 L2202.31 532.54 L2208 531.18 L2213.69 529.8 L2219.38 528.4 L2225.07 526.98 L2230.77 525.55 L2236.46 524.1 L2242.15 522.64 L2247.84 521.16 L2253.53 519.68 L2259.22 518.19 L2264.91 516.69 L2270.61 515.18 L2276.3 513.67 L2281.99 512.16 L2287.68 510.65 L2293.37 509.13 L2299.06 507.62" fill="none" stroke="rgba(42,46,236,0.3)" stroke-width="4.17" stroke-linejoin="round" stroke-linecap="square"/>
<path d="M216 508.63 L221.69 510.17 L227.38 511.71 L233.07 513.26 L238.77 514.8 L244.46 516.34 L250.15 517.86 L255.84 519.38 L261.53 520.88 L267.22 522.36 L272.91 523.82 L278.61 525.25 L284.3 526.66 L289.99 528.03 L295.68 529.37 L301.37 530.68 L307.06 531.94 L312.75 533.16 L318.45 534.33 L324.14 535.45 L329.83 536.53 L335.52 537.55 L341.21 538.51 L346.9 539.41 L352.59 540.26 L358.29 541.04 L363.98 541.75 L369.67 542.4 L375.36 542.97 L381.05 543.48 L386.74 543.91 L392.43 544.27 L398.13 544.55 L403.82 544.75 L409.51 544.88 L415.2 544.92 L420.89 544.88 L426.58 544.76 L432.27 544.56 L437.97 544.27 L443.66 543.9 L449.35 543.44 L455.04 542.89 L460.73 542.26 L466.42 541.55 L472.11 540.75 L477.81 539.86 L483.5 538.88 L489.19 537.82 L494.88 536.68 L500.57 535.45 L506.26 534.14 L511.95 532.74 L517.65 531.26 L523.34 529.7 L529.03 528.07 L534.72 526.35 L540.41 524.56 L546.1 522.69 L551.79 520.74 L557.49 518.73 L563.18 516.64 L568.87 514.49 L574.56 512.27 L580.25 509.99 L585.94 507.65 L591.63 505.24 L597.33 502.78 L603.02 500.27 L608.71 497.71 L614.4 495.09 L620.09 492.43 L625.78 489.73 L631.47 486.99 L637.17 484.21 L642.86 481.4 L648.55 478.56 L654.24 475.69 L659.93 472.79 L665.62 469.88 L671.31 466.95 L677.01 464 L682.7 461.05 L688.39 458.09 L694.08 455.13 L699.77 452.16 L705.46 449.21 L711.15 446.26 L716.85 443.32 L722.54 440.4 L728.23 437.5 L733.92 434.62 L739.61 431.76 L745.3 428.94 L750.99 426.15 L756.69 423.4 L762.38 420.69 L768.07 418.03 L773.76 415.42 L779.45 412.85 L785.14 410.35 L790.83 407.9 L796.53 405.51 L802.22 403.19 L807.91 400.95 L813.6 398.77 L819.29 396.67 L824.98 394.65 L830.67 392.71 L836.37 390.86 L842.06 389.09 L847.75 387.42 L853.44 385.84 L859.13 384.35 L864.82 382.97 L870.51 381.69 L876.21 380.51 L881.9 379.44 L887.59 378.47 L893.28 377.62 L898.97 376.88 L904.66 376.25 L910.35 375.74 L916.05 375.35 L921.74 375.08 L927.43 374.93 L933.12 374.9 L938.81 374.99 L944.5 375.21 L950.19 375.55 L955.89 376.02 L961.58 376.61 L967.27 377.33 L972.96 378.18 L978.65 379.16 L984.34 380.26 L990.03 381.49 L995.73 382.85 L1001.42 384.34 L1007.11 385.95 L1012.8 387.69 L1018.49 389.55 L1024.18 391.54 L1029.87 393.65 L1035.57 395.88 L1041.26 398.23 L1046.95 400.71 L1052.64 403.3 L1058.33 406 L1064.02 408.82 L1069.71 411.76 L1075.41 414.8 L1081.1 417.96 L1086.79 421.21 L1092.48 424.58 L1098.17 428.04 L1103.86 431.6 L1109.55 435.26 L1115.25 439.01 L1120.94 442.85 L1126.63 446.78 L1132.32 450.79 L1138.01 454.89 L1143.7 459.06 L1149.39 463.3 L1155.09 467.61 L1160.78 471.99 L1166.47 476.44 L1172.16 480.94 L1177.85 485.5 L1183.54 490.11 L1189.23 494.77 L1194.93 499.47 L1200.62 504.21 L1206.31 508.99 L1212 513.8 L1217.69 518.64 L1223.38 523.5 L1229.07 528.37 L1234.77 533.27 L1240.46 538.17 L1246.15 543.08 L1251.84 547.99 L1257.53 552.9 L1263.22 557.8 L1268.91 562.7 L1274.61 567.57 L1280.3 572.43 L1285.99 577.26 L1291.68 582.06 L1297.37 586.84 L1303.06 591.57 L1308.75 596.26 L1314.45 600.91 L1320.14 605.51 L1325.83 610.06 L1331.52 614.55 L1337.21 618.98 L1342.9 623.34 L1348.59 627.64 L1354.29 631.86 L1359.98 636.01 L1365.67 640.08 L1371.36 644.06 L1377.05 647.96 L1382.74 651.77 L1388.43 655.48 L1394.13 659.1 L1399.82 662.62 L1405.51 666.04 L1411.2 669.35 L1416.89 672.55 L1422.58 675.65 L1428.27 678.63 L1433.97 681.49 L1439.66 684.24 L1445.35 686.87 L1451.04 689.38 L1456.73 691.76 L1462.42 694.02 L1468.11 696.15 L1473.81 698.15 L1479.5 700.02 L1485.19 701.77 L1490.88 703.37 L1496.57 704.85 L1502.26 706.19 L1507.95 707.4 L1513.65 708.47 L1519.34 709.41 L1525.03 710.21 L1530.72 710.87 L1536.41 711.4 L1542.1 711.79 L1547.79 712.05 L1553.49 712.17 L1559.18 712.15 L1564.87 712 L1570.56 711.72 L1576.25 711.31 L1581.94 710.76 L1587.63 710.09 L1593.33 709.28 L1599.02 708.35 L1604.71 707.29 L1610.4 706.11 L1616.09 704.81 L1621.78 703.39 L1627.47 701.85 L1633.17 700.19 L1638.86 698.42 L1644.55 696.53 L1650.24 694.54 L1655.93 692.45 L1661.62 690.25 L1667.31 687.95 L1673.01 685.55 L1678.7 683.06 L1684.39 680.47 L1690.08 677.8 L1695.77 675.04 L1701.46 672.2 L1707.15 669.28 L1712.85 666.29 L1718.54 663.23 L1724.23 660.09 L1729.92 656.9 L1735.61 653.64 L1741.3 650.33 L1746.99 646.96 L1752.69 643.54 L1758.38 640.08 L1764.07 636.58 L1769.76 633.04 L1775.45 629.46 L1781.14 625.86 L1786.83 622.23 L1792.53 618.58 L1798.22 614.91 L1803.91 611.22 L1809.6 607.53 L1815.29 603.83 L1820.98 600.12 L1826.67 596.42 L1832.37 592.72 L1838.06 589.04 L1843.75 585.36 L1849.44 581.7 L1855.13 578.07 L1860.82 574.45 L1866.51 570.87 L1872.21 567.31 L1877.9 563.79 L1883.59 560.31 L1889.28 556.87 L1894.97 553.47 L1900.66 550.12 L1906.35 546.82 L1912.05 543.58 L1917.74 540.39 L1923.43 537.26 L1929.12 534.2 L1934.81 531.2 L1940.5 528.27 L1946.19 525.41 L1951.89 522.62 L1957.58 519.9 L1963.27 517.27 L1968.96 514.71 L1974.65 512.23 L1980.34 509.84 L1986.03 507.53 L1991.73 505.31 L1997.42 503.17 L2003.11 501.12 L2008.8 499.17 L2014.49 497.3 L2020.18 495.53 L2025.87 493.85 L2031.57 492.27 L2037.26 490.77 L2042.95 489.38 L2048.64 488.08 L2054.33 486.87 L2060.02 485.76 L2065.71 484.75 L2071.41 483.83 L2077.1 483.01 L2082.79 482.28 L2088.48 481.65 L2094.17 481.11 L2099.86 480.66 L2105.55 480.31 L2111.25 480.04 L2116.94 479.87 L2122.63 479.78 L2128.32 479.78 L2134.01 479.87 L2139.7 480.04 L2145.39 480.29 L2151.09 480.63 L2156.78 481.04 L2162.47 481.53 L2168.16 482.1 L2173.85 482.74 L2179.54 483.45 L2185.23 484.22 L2190.93 485.06 L2196.62 485.97 L2202.31 486.93 L2208 487.96 L2213.69 489.03 L2219.38 490.17 L2225.07 491.35 L2230.77 492.57 L2236.46 493.84 L2242.15 495.15 L2247.84 496.5 L2253.53 497.88 L2259.22 499.29 L2264.91 500.73 L2270.61 502.2 L2276.3 503.69 L2281.99 505.19 L2287.68 506.71 L2293.37 508.24 L2299.06 509.78" fill="none" stroke="rgba(42,46,236,0.3)" stroke-width="4.17" stroke-linejoin="round" stroke-linecap="square"/>
<path d="M216 522.69 L221.69 522.25 L227.38 521.78 L233.07 521.28 L238.77 520.76 L244.46 520.21 L250.15 519.64 L255.84 519.04 L261.53 518.42 L267.22 517.77 L272.91 517.1 L278.61 516.4 L284.3 515.68 L289.99 514.94 L295.68 514.18 L301.37 513.39 L307.06 512.58 L312.75 511.75 L318.45 510.9 L324.14 510.03 L329.83 509.14 L335.52 508.23 L341.21 507.31 L346.9 506.37 L352.59 505.42 L358.29 504.45 L363.98 503.46 L369.67 502.47 L375.36 501.46 L381.05 500.44 L386.74 499.41 L392.43 498.38 L398.13 497.33 L403.82 496.28 L409.51 495.23 L415.2 494.17 L420.89 493.1 L426.58 492.04 L432.27 490.98 L437.97 489.91 L443.66 488.85 L449.35 487.8 L455.04 486.74 L460.73 485.7 L466.42 484.66 L472.11 483.62 L477.81 482.6 L483.5 481.59 L489.19 480.59 L494.88 479.61 L500.57 478.64 L506.26 477.69 L511.95 476.75 L517.65 475.83 L523.34 474.93 L529.03 474.06 L534.72 473.2 L540.41 472.37 L546.1 471.57 L551.79 470.79 L557.49 470.04 L563.18 469.32 L568.87 468.62 L574.56 467.96 L580.25 467.33 L585.94 466.73 L591.63 466.17 L597.33 465.64 L603.02 465.15 L608.71 464.69 L614.4 464.27 L620.09 463.89 L625.78 463.55 L631.47 463.25 L637.17 463 L642.86 462.78 L648.55 462.61 L654.24 462.48 L659.93 462.39 L665.62 462.35 L671.31 462.35 L677.01 462.4 L682.7 462.5 L688.39 462.64 L694.08 462.83 L699.77 463.06 L705.46 463.35 L711.15 463.68 L716.85 464.06 L722.54 464.48 L728.23 464.96 L733.92 465.48 L739.61 466.06 L745.3 466.68 L750.99 467.34 L756.69 468.06 L762.38 468.83 L768.07 469.64 L773.76 470.5 L779.45 471.4 L785.14 472.36 L790.83 473.35 L796.53 474.4 L802.22 475.49 L807.91 476.62 L813.6 477.8 L819.29 479.02 L824.98 480.29 L830.67 481.59 L836.37 482.94 L842.06 484.33 L847.75 485.75 L853.44 487.22 L859.13 488.72 L864.82 490.26 L870.51 491.83 L876.21 493.44 L881.9 495.08 L887.59 496.75 L893.28 498.46 L898.97 500.19 L904.66 501.95 L910.35 503.74 L916.05 505.55 L921.74 507.39 L927.43 509.25 L933.12 511.14 L938.81 513.04 L944.5 514.96 L950.19 516.9 L955.89 518.86 L961.58 520.83 L967.27 522.81 L972.96 524.8 L978.65 526.81 L984.34 528.82 L990.03 530.84 L995.73 532.86 L1001.42 534.89 L1007.11 536.92 L1012.8 538.94 L1018.49 540.97 L1024.18 543 L1029.87 545.02 L1035.57 547.03 L1041.26 549.03 L1046.95 551.03 L1052.64 553.02 L1058.33 554.99 L1064.02 556.95 L1069.71 558.89 L1075.41 560.82 L1081.1 562.72 L1086.79 564.61 L1092.48 566.48 L1098.17 568.32 L1103.86 570.14 L1109.55 571.93 L1115.25 573.7 L1120.94 575.43 L1126.63 577.14 L1132.32 578.81 L1138.01 580.46 L1143.7 582.07 L1149.39 583.64 L1155.09 585.18 L1160.78 586.68 L1166.47 588.14 L1172.16 589.56 L1177.85 590.94 L1183.54 592.28 L1189.23 593.58 L1194.93 594.84 L1200.62 596.05 L1206.31 597.21 L1212 598.33 L1217.69 599.41 L1223.38 600.43 L1229.07 601.41 L1234.77 602.34 L1240.46 603.22 L1246.15 604.05 L1251.84 604.83 L1257.53 605.56 L1263.22 606.24 L1268.91 606.87 L1274.61 607.45 L1280.3 607.98 L1285.99 608.45 L1291.68 608.87 L1297.37 609.25 L1303.06 609.57 L1308.75 609.83 L1314.45 610.05 L1320.14 610.22 L1325.83 610.33 L1331.52 610.39 L1337.21 610.4 L1342.9 610.36 L1348.59 610.28 L1354.29 610.14 L1359.98 609.95 L1365.67 609.71 L1371.36 609.43 L1377.05 609.1 L1382.74 608.72 L1388.43 608.29 L1394.13 607.83 L1399.82 607.31 L1405.51 606.75 L1411.2 606.15 L1416.89 605.51 L1422.58 604.82 L1428.27 604.1 L1433.97 603.33 L1439.66 602.53 L1445.35 601.69 L1451.04 600.82 L1456.73 599.91 L1462.42 598.97 L1468.11 597.99 L1473.81 596.98 L1479.5 595.94 L1485.19 594.88 L1490.88 593.78 L1496.57 592.66 L1502.26 591.52 L1507.95 590.35 L1513.65 589.16 L1519.34 587.94 L1525.03 586.71 L1530.72 585.46 L1536.41 584.19 L1542.1 582.91 L1547.79 581.61 L1553.49 580.3 L1559.18 578.97 L1564.87 577.64 L1570.56 576.3 L1576.25 574.95 L1581.94 573.6 L1587.63 572.24 L1593.33 570.87 L1599.02 569.51 L1604.71 568.14 L1610.4 566.78 L1616.09 565.42 L1621.78 564.06 L1627.47 562.7 L1633.17 561.35 L1638.86 560.01 L1644.55 558.68 L1650.24 557.35 L1655.93 556.04 L1661.62 554.74 L1667.31 553.45 L1673.01 552.18 L1678.7 550.92 L1684.39 549.68 L1690.08 548.45 L1695.77 547.24 L1701.46 546.05 L1707.15 544.89 L1712.85 543.74 L1718.54 542.61 L1724.23 541.51 L1729.92 540.43 L1735.61 539.37 L1741.3 538.34 L1746.99 537.34 L1752.69 536.36 L1758.38 535.41 L1764.07 534.48 L1769.76 533.58 L1775.45 532.71 L1781.14 531.87 L1786.83 531.06 L1792.53 530.27 L1798.22 529.52 L1803.91 528.79 L1809.6 528.1 L1815.29 527.43 L1820.98 526.8 L1826.67 526.19 L1832.37 525.62 L1838.06 525.07 L1843.75 524.56 L1849.44 524.07 L1855.13 523.62 L1860.82 523.19 L1866.51 522.8 L1872.21 522.43 L1877.9 522.09 L1883.59 521.78 L1889.28 521.5 L1894.97 521.25 L1900.66 521.02 L1906.35 520.82 L1912.05 520.64 L1917.74 520.49 L1923.43 520.37 L1929.12 520.27 L1934.81 520.19 L1940.5 520.14 L1946.19 520.11 L1951.89 520.1 L1957.58 520.11 L1963.27 520.14 L1968.96 520.19 L1974.65 520.26 L1980.34 520.34 L1986.03 520.44 L1991.73 520.56 L1997.42 520.69 L2003.11 520.83 L2008.8 520.99 L2014.49 521.16 L2020.18 521.33 L2025.87 521.52 L2031.57 521.72 L2037.26 521.92 L2042.95 522.13 L2048.64 522.35 L2054.33 522.56 L2060.02 522.79 L2065.71 523.01 L2071.41 523.23 L2077.1 523.46 L2082.79 523.68 L2088.48 523.9 L2094.17 524.12 L2099.86 524.34 L2105.55 524.54 L2111.25 524.75 L2116.94 524.94 L2122.63 525.13 L2128.32 525.31 L2134.01 525.47 L2139.7 525.63 L2145.39 525.77 L2151.09 525.9 L2156.78 526.02 L2162.47 526.12 L2168.16 526.2 L2173.85 526.27 L2179.54 526.33 L2185.23 526.36 L2190.93 526.37 L2196.62 526.37 L2202.31 526.35 L2208 526.3 L2213.69 526.23 L2219.38 526.14 L2225.07 526.03 L2230.77 525.9 L2236.46 525.74 L2242.15 525.56 L2247.84 525.35 L2253.53 525.12 L2259.22 524.87 L2264.91 524.59 L2270.61 524.28 L2276.3 523.95 L2281.99 523.59 L2287.68 523.2 L2293.37 522.79 L2299.06 522.36" fill="none" stroke="rgba(42,46,236,0.3)" stroke-width="4.17" stroke-linejoin="round" stroke-linecap="square"/>
<path d="M216 533.97 L221.69 531.61 L227.38 529.28 L233.07 526.98 L238.77 524.7 L244.46 522.45 L250.15 520.22 L255.84 518.03 L261.53 515.86 L267.22 513.73 L272.91 511.63 L278.61 509.57 L284.3 507.54 L289.99 505.54 L295.68 503.58 L301.37 501.66 L307.06 499.77 L312.75 497.92 L318.45 496.11 L324.14 494.34 L329.83 492.61 L335.52 490.92 L341.21 489.28 L346.9 487.67 L352.59 486.1 L358.29 484.58 L363.98 483.1 L369.67 481.66 L375.36 480.26 L381.05 478.91 L386.74 477.6 L392.43 476.33 L398.13 475.1 L403.82 473.92 L409.51 472.78 L415.2 471.68 L420.89 470.62 L426.58 469.61 L432.27 468.64 L437.97 467.71 L443.66 466.81 L449.35 465.96 L455.04 465.16 L460.73 464.39 L466.42 463.65 L472.11 462.96 L477.81 462.31 L483.5 461.69 L489.19 461.11 L494.88 460.57 L500.57 460.06 L506.26 459.59 L511.95 459.15 L517.65 458.74 L523.34 458.37 L529.03 458.03 L534.72 457.72 L540.41 457.44 L546.1 457.18 L551.79 456.96 L557.49 456.76 L563.18 456.59 L568.87 456.45 L574.56 456.33 L580.25 456.23 L585.94 456.16 L591.63 456.1 L597.33 456.07 L603.02 456.06 L608.71 456.06 L614.4 456.09 L620.09 456.13 L625.78 456.18 L631.47 456.25 L637.17 456.34 L642.86 456.43 L648.55 456.54 L654.24 456.66 L659.93 456.79 L665.62 456.93 L671.31 457.07 L677.01 457.22 L682.7 457.38 L688.39 457.55 L694.08 457.71 L699.77 457.89 L705.46 458.06 L711.15 458.24 L716.85 458.41 L722.54 458.59 L728.23 458.77 L733.92 458.95 L739.61 459.12 L745.3 459.29 L750.99 459.46 L756.69 459.63 L762.38 459.79 L768.07 459.95 L773.76 460.1 L779.45 460.25 L785.14 460.39 L790.83 460.52 L796.53 460.65 L802.22 460.77 L807.91 460.88 L813.6 460.99 L819.29 461.08 L824.98 461.17 L830.67 461.25 L836.37 461.33 L842.06 461.39 L847.75 461.45 L853.44 461.49 L859.13 461.53 L864.82 461.56 L870.51 461.59 L876.21 461.6 L881.9 461.61 L887.59 461.61 L893.28 461.6 L898.97 461.58 L904.66 461.56 L910.35 461.53 L916.05 461.5 L921.74 461.46 L927.43 461.41 L933.12 461.36 L938.81 461.31 L944.5 461.25 L950.19 461.19 L955.89 461.13 L961.58 461.06 L967.27 461 L972.96 460.93 L978.65 460.87 L984.34 460.8 L990.03 460.74 L995.73 460.68 L1001.42 460.62 L1007.11 460.57 L1012.8 460.52 L1018.49 460.48 L1024.18 460.45 L1029.87 460.42 L1035.57 460.4 L1041.26 460.39 L1046.95 460.4 L1052.64 460.41 L1058.33 460.44 L1064.02 460.48 L1069.71 460.53 L1075.41 460.6 L1081.1 460.68 L1086.79 460.79 L1092.48 460.91 L1098.17 461.05 L1103.86 461.21 L1109.55 461.39 L1115.25 461.59 L1120.94 461.82 L1126.63 462.07 L1132.32 462.34 L1138.01 462.64 L1143.7 462.97 L1149.39 463.32 L1155.09 463.7 L1160.78 464.11 L1166.47 464.55 L1172.16 465.03 L1177.85 465.53 L1183.54 466.07 L1189.23 466.64 L1194.93 467.24 L1200.62 467.87 L1206.31 468.55 L1212 469.25 L1217.69 470 L1223.38 470.78 L1229.07 471.6 L1234.77 472.45 L1240.46 473.35 L1246.15 474.28 L1251.84 475.25 L1257.53 476.26 L1263.22 477.31 L1268.91 478.4 L1274.61 479.54 L1280.3 480.71 L1285.99 481.92 L1291.68 483.17 L1297.37 484.46 L1303.06 485.8 L1308.75 487.17 L1314.45 488.59 L1320.14 490.04 L1325.83 491.54 L1331.52 493.07 L1337.21 494.65 L1342.9 496.27 L1348.59 497.92 L1354.29 499.61 L1359.98 501.34 L1365.67 503.11 L1371.36 504.92 L1377.05 506.76 L1382.74 508.64 L1388.43 510.56 L1394.13 512.51 L1399.82 514.49 L1405.51 516.51 L1411.2 518.56 L1416.89 520.64 L1422.58 522.75 L1428.27 524.89 L1433.97 527.06 L1439.66 529.26 L1445.35 531.48 L1451.04 533.73 L1456.73 536 L1462.42 538.3 L1468.11 540.61 L1473.81 542.95 L1479.5 545.31 L1485.19 547.68 L1490.88 550.07 L1496.57 552.48 L1502.26 554.9 L1507.95 557.33 L1513.65 559.77 L1519.34 562.22 L1525.03 564.68 L1530.72 567.15 L1536.41 569.62 L1542.1 572.09 L1547.79 574.57 L1553.49 577.04 L1559.18 579.51 L1564.87 581.98 L1570.56 584.44 L1576.25 586.9 L1581.94 589.35 L1587.63 591.78 L1593.33 594.21 L1599.02 596.62 L1604.71 599.01 L1610.4 601.39 L1616.09 603.75 L1621.78 606.09 L1627.47 608.41 L1633.17 610.7 L1638.86 612.97 L1644.55 615.21 L1650.24 617.42 L1655.93 619.6 L1661.62 621.75 L1667.31 623.86 L1673.01 625.94 L1678.7 627.99 L1684.39 629.99 L1690.08 631.95 L1695.77 633.88 L1701.46 635.76 L1707.15 637.59 L1712.85 639.38 L1718.54 641.12 L1724.23 642.82 L1729.92 644.46 L1735.61 646.05 L1741.3 647.59 L1746.99 649.08 L1752.69 650.51 L1758.38 651.88 L1764.07 653.2 L1769.76 654.46 L1775.45 655.66 L1781.14 656.8 L1786.83 657.88 L1792.53 658.9 L1798.22 659.85 L1803.91 660.74 L1809.6 661.57 L1815.29 662.33 L1820.98 663.03 L1826.67 663.66 L1832.37 664.22 L1838.06 664.72 L1843.75 665.15 L1849.44 665.51 L1855.13 665.8 L1860.82 666.02 L1866.51 666.18 L1872.21 666.27 L1877.9 666.28 L1883.59 666.23 L1889.28 666.11 L1894.97 665.92 L1900.66 665.66 L1906.35 665.34 L1912.05 664.94 L1917.74 664.48 L1923.43 663.95 L1929.12 663.35 L1934.81 662.68 L1940.5 661.95 L1946.19 661.15 L1951.89 660.29 L1957.58 659.36 L1963.27 658.37 L1968.96 657.31 L1974.65 656.19 L1980.34 655.01 L1986.03 653.77 L1991.73 652.47 L1997.42 651.11 L2003.11 649.7 L2008.8 648.22 L2014.49 646.7 L2020.18 645.11 L2025.87 643.48 L2031.57 641.79 L2037.26 640.05 L2042.95 638.26 L2048.64 636.43 L2054.33 634.54 L2060.02 632.62 L2065.71 630.65 L2071.41 628.63 L2077.1 626.58 L2082.79 624.48 L2088.48 622.35 L2094.17 620.19 L2099.86 617.98 L2105.55 615.75 L2111.25 613.48 L2116.94 611.19 L2122.63 608.86 L2128.32 606.51 L2134.01 604.14 L2139.7 601.74 L2145.39 599.32 L2151.09 596.88 L2156.78 594.43 L2162.47 591.96 L2168.16 589.47 L2173.85 586.97 L2179.54 584.46 L2185.23 581.94 L2190.93 579.42 L2196.62 576.89 L2202.31 574.35 L2208 571.81 L2213.69 569.27 L2219.38 566.74 L2225.07 564.2 L2230.77 561.67 L2236.46 559.14 L2242.15 556.63 L2247.84 554.12 L2253.53 551.62 L2259.22 549.14 L2264.91 546.66 L2270.61 544.21 L2276.3 541.77 L2281.99 539.34 L2287.68 536.94 L2293.37 534.56 L2299.06 532.2" fill="none" stroke="rgba(42,46,236,0.3)" stroke-width="4.17" stroke-linejoin="round" stroke-linecap="square"/>
<path d="M216 537.26 L221.69 539.66 L227.38 542.11 L233.07 544.6 L238.77 547.13 L244.46 549.69 L250.15 552.29 L255.84 554.92 L261.53 557.58 L267.22 560.26 L272.91 562.97 L278.61 565.69 L284.3 568.44 L289.99 571.2 L295.68 573.97 L301.37 576.75 L307.06 579.53 L312.75 582.32 L318.45 585.1 L324.14 587.89 L329.83 590.66 L335.52 593.43 L341.21 596.18 L346.9 598.92 L352.59 601.64 L358.29 604.34 L363.98 607.01 L369.67 609.66 L375.36 612.27 L381.05 614.85 L386.74 617.39 L392.43 619.9 L398.13 622.35 L403.82 624.77 L409.51 627.13 L415.2 629.44 L420.89 631.7 L426.58 633.9 L432.27 636.04 L437.97 638.12 L443.66 640.14 L449.35 642.08 L455.04 643.96 L460.73 645.76 L466.42 647.49 L472.11 649.14 L477.81 650.71 L483.5 652.2 L489.19 653.61 L494.88 654.93 L500.57 656.17 L506.26 657.31 L511.95 658.37 L517.65 659.33 L523.34 660.2 L529.03 660.97 L534.72 661.65 L540.41 662.23 L546.1 662.71 L551.79 663.09 L557.49 663.37 L563.18 663.55 L568.87 663.62 L574.56 663.59 L580.25 663.46 L585.94 663.23 L591.63 662.89 L597.33 662.44 L603.02 661.9 L608.71 661.24 L614.4 660.49 L620.09 659.63 L625.78 658.66 L631.47 657.59 L637.17 656.42 L642.86 655.15 L648.55 653.78 L654.24 652.3 L659.93 650.73 L665.62 649.06 L671.31 647.29 L677.01 645.43 L682.7 643.47 L688.39 641.42 L694.08 639.28 L699.77 637.05 L705.46 634.74 L711.15 632.33 L716.85 629.85 L722.54 627.28 L728.23 624.63 L733.92 621.91 L739.61 619.11 L745.3 616.23 L750.99 613.29 L756.69 610.28 L762.38 607.21 L768.07 604.08 L773.76 600.88 L779.45 597.63 L785.14 594.33 L790.83 590.97 L796.53 587.57 L802.22 584.12 L807.91 580.63 L813.6 577.11 L819.29 573.55 L824.98 569.95 L830.67 566.33 L836.37 562.68 L842.06 559.01 L847.75 555.32 L853.44 551.62 L859.13 547.9 L864.82 544.18 L870.51 540.45 L876.21 536.72 L881.9 532.99 L887.59 529.26 L893.28 525.54 L898.97 521.84 L904.66 518.15 L910.35 514.47 L916.05 510.82 L921.74 507.19 L927.43 503.59 L933.12 500.03 L938.81 496.49 L944.5 493 L950.19 489.54 L955.89 486.13 L961.58 482.76 L967.27 479.45 L972.96 476.18 L978.65 472.98 L984.34 469.83 L990.03 466.74 L995.73 463.71 L1001.42 460.75 L1007.11 457.86 L1012.8 455.04 L1018.49 452.29 L1024.18 449.61 L1029.87 447.02 L1035.57 444.5 L1041.26 442.07 L1046.95 439.72 L1052.64 437.45 L1058.33 435.27 L1064.02 433.19 L1069.71 431.19 L1075.41 429.28 L1081.1 427.46 L1086.79 425.74 L1092.48 424.12 L1098.17 422.59 L1103.86 421.15 L1109.55 419.82 L1115.25 418.58 L1120.94 417.45 L1126.63 416.41 L1132.32 415.47 L1138.01 414.64 L1143.7 413.9 L1149.39 413.27 L1155.09 412.73 L1160.78 412.3 L1166.47 411.97 L1172.16 411.73 L1177.85 411.6 L1183.54 411.56 L1189.23 411.62 L1194.93 411.78 L1200.62 412.04 L1206.31 412.39 L1212 412.83 L1217.69 413.37 L1223.38 414 L1229.07 414.72 L1234.77 415.53 L1240.46 416.42 L1246.15 417.41 L1251.84 418.47 L1257.53 419.62 L1263.22 420.85 L1268.91 422.15 L1274.61 423.54 L1280.3 424.99 L1285.99 426.52 L1291.68 428.12 L1297.37 429.79 L1303.06 431.52 L1308.75 433.31 L1314.45 435.16 L1320.14 437.07 L1325.83 439.03 L1331.52 441.05 L1337.21 443.12 L1342.9 445.23 L1348.59 447.38 L1354.29 449.58 L1359.98 451.81 L1365.67 454.08 L1371.36 456.39 L1377.05 458.72 L1382.74 461.07 L1388.43 463.46 L1394.13 465.86 L1399.82 468.27 L1405.51 470.71 L1411.2 473.15 L1416.89 475.6 L1422.58 478.06 L1428.27 480.52 L1433.97 482.98 L1439.66 485.44 L1445.35 487.89 L1451.04 490.33 L1456.73 492.76 L1462.42 495.18 L1468.11 497.58 L1473.81 499.95 L1479.5 502.31 L1485.19 504.63 L1490.88 506.93 L1496.57 509.2 L1502.26 511.44 L1507.95 513.64 L1513.65 515.8 L1519.34 517.92 L1525.03 520 L1530.72 522.04 L1536.41 524.02 L1542.1 525.96 L1547.79 527.85 L1553.49 529.68 L1559.18 531.46 L1564.87 533.19 L1570.56 534.85 L1576.25 536.46 L1581.94 538 L1587.63 539.48 L1593.33 540.9 L1599.02 542.25 L1604.71 543.54 L1610.4 544.76 L1616.09 545.91 L1621.78 546.99 L1627.47 548.01 L1633.17 548.95 L1638.86 549.82 L1644.55 550.62 L1650.24 551.35 L1655.93 552.01 L1661.62 552.59 L1667.31 553.11 L1673.01 553.55 L1678.7 553.92 L1684.39 554.22 L1690.08 554.45 L1695.77 554.61 L1701.46 554.69 L1707.15 554.71 L1712.85 554.66 L1718.54 554.54 L1724.23 554.36 L1729.92 554.1 L1735.61 553.79 L1741.3 553.41 L1746.99 552.97 L1752.69 552.46 L1758.38 551.9 L1764.07 551.28 L1769.76 550.61 L1775.45 549.88 L1781.14 549.09 L1786.83 548.26 L1792.53 547.37 L1798.22 546.44 L1803.91 545.47 L1809.6 544.45 L1815.29 543.39 L1820.98 542.29 L1826.67 541.15 L1832.37 539.98 L1838.06 538.78 L1843.75 537.55 L1849.44 536.3 L1855.13 535.02 L1860.82 533.71 L1866.51 532.39 L1872.21 531.05 L1877.9 529.7 L1883.59 528.33 L1889.28 526.96 L1894.97 525.58 L1900.66 524.2 L1906.35 522.81 L1912.05 521.43 L1917.74 520.05 L1923.43 518.68 L1929.12 517.32 L1934.81 515.97 L1940.5 514.64 L1946.19 513.33 L1951.89 512.03 L1957.58 510.76 L1963.27 509.51 L1968.96 508.3 L1974.65 507.11 L1980.34 505.95 L1986.03 504.83 L1991.73 503.75 L1997.42 502.71 L2003.11 501.71 L2008.8 500.76 L2014.49 499.85 L2020.18 498.99 L2025.87 498.19 L2031.57 497.43 L2037.26 496.73 L2042.95 496.09 L2048.64 495.5 L2054.33 494.98 L2060.02 494.52 L2065.71 494.12 L2071.41 493.78 L2077.1 493.52 L2082.79 493.32 L2088.48 493.18 L2094.17 493.12 L2099.86 493.13 L2105.55 493.21 L2111.25 493.37 L2116.94 493.59 L2122.63 493.89 L2128.32 494.27 L2134.01 494.72 L2139.7 495.25 L2145.39 495.85 L2151.09 496.53 L2156.78 497.28 L2162.47 498.11 L2168.16 499.02 L2173.85 500 L2179.54 501.06 L2185.23 502.19 L2190.93 503.4 L2196.62 504.68 L2202.31 506.03 L2208 507.46 L2213.69 508.96 L2219.38 510.52 L2225.07 512.16 L2230.77 513.86 L2236.46 515.64 L2242.15 517.47 L2247.84 519.37 L2253.53 521.33 L2259.22 523.36 L2264.91 525.44 L2270.61 527.58 L2276.3 529.77 L2281.99 532.02 L2287.68 534.32 L2293.37 536.66 L2299.06 539.06" fill="none" stroke="rgba(42,46,236,0.3)" stroke-width="4.17" stroke-linejoin="round" stroke-linecap="square"/>
<path d="M216 556.78 L221.69 555.77 L227.38 554.76 L233.07 553.76 L238.77 552.76 L244.46 551.78 L250.15 550.8 L255.84 549.83 L261.53 548.88 L267.22 547.93 L272.91 547.01 L278.61 546.09 L284.3 545.2 L289.99 544.32 L295.68 543.45 L301.37 542.61 L307.06 541.79 L312.75 540.99 L318.45 540.21 L324.14 539.45 L329.83 538.71 L335.52 538 L341.21 537.32 L346.9 536.66 L352.59 536.03 L358.29 535.42 L363.98 534.84 L369.67 534.29 L375.36 533.76 L381.05 533.27 L386.74 532.8 L392.43 532.36 L398.13 531.96 L403.82 531.58 L409.51 531.23 L415.2 530.91 L420.89 530.63 L426.58 530.37 L432.27 530.14 L437.97 529.95 L443.66 529.78 L449.35 529.65 L455.04 529.54 L460.73 529.47 L466.42 529.42 L472.11 529.4 L477.81 529.42 L483.5 529.46 L489.19 529.53 L494.88 529.63 L500.57 529.75 L506.26 529.9 L511.95 530.08 L517.65 530.28 L523.34 530.51 L529.03 530.76 L534.72 531.04 L540.41 531.34 L546.1 531.66 L551.79 532 L557.49 532.36 L563.18 532.74 L568.87 533.14 L574.56 533.56 L580.25 533.99 L585.94 534.44 L591.63 534.91 L597.33 535.39 L603.02 535.88 L608.71 536.38 L614.4 536.89 L620.09 537.41 L625.78 537.94 L631.47 538.48 L637.17 539.02 L642.86 539.57 L648.55 540.12 L654.24 540.67 L659.93 541.22 L665.62 541.78 L671.31 542.33 L677.01 542.88 L682.7 543.43 L688.39 543.97 L694.08 544.5 L699.77 545.03 L705.46 545.55 L711.15 546.06 L716.85 546.56 L722.54 547.04 L728.23 547.52 L733.92 547.98 L739.61 548.42 L745.3 548.85 L750.99 549.26 L756.69 549.65 L762.38 550.02 L768.07 550.37 L773.76 550.7 L779.45 551.01 L785.14 551.29 L790.83 551.55 L796.53 551.78 L802.22 551.99 L807.91 552.17 L813.6 552.32 L819.29 552.45 L824.98 552.54 L830.67 552.6 L836.37 552.64 L842.06 552.64 L847.75 552.61 L853.44 552.55 L859.13 552.46 L864.82 552.33 L870.51 552.17 L876.21 551.97 L881.9 551.74 L887.59 551.48 L893.28 551.18 L898.97 550.84 L904.66 550.47 L910.35 550.07 L916.05 549.63 L921.74 549.15 L927.43 548.64 L933.12 548.1 L938.81 547.52 L944.5 546.9 L950.19 546.25 L955.89 545.57 L961.58 544.85 L967.27 544.09 L972.96 543.31 L978.65 542.49 L984.34 541.64 L990.03 540.76 L995.73 539.84 L1001.42 538.9 L1007.11 537.92 L1012.8 536.92 L1018.49 535.88 L1024.18 534.82 L1029.87 533.74 L1035.57 532.62 L1041.26 531.48 L1046.95 530.32 L1052.64 529.14 L1058.33 527.93 L1064.02 526.7 L1069.71 525.45 L1075.41 524.18 L1081.1 522.9 L1086.79 521.6 L1092.48 520.28 L1098.17 518.95 L1103.86 517.6 L1109.55 516.24 L1115.25 514.88 L1120.94 513.5 L1126.63 512.12 L1132.32 510.73 L1138.01 509.33 L1143.7 507.94 L1149.39 506.54 L1155.09 505.13 L1160.78 503.73 L1166.47 502.33 L1172.16 500.94 L1177.85 499.55 L1183.54 498.16 L1189.23 496.79 L1194.93 495.42 L1200.62 494.07 L1206.31 492.72 L1212 491.39 L1217.69 490.08 L1223.38 488.78 L1229.07 487.49 L1234.77 486.23 L1240.46 484.99 L1246.15 483.77 L1251.84 482.58 L1257.53 481.4 L1263.22 480.26 L1268.91 479.14 L1274.61 478.05 L1280.3 476.99 L1285.99 475.96 L1291.68 474.97 L1297.37 474 L1303.06 473.07 L1308.75 472.18 L1314.45 471.32 L1320.14 470.51 L1325.83 469.73 L1331.52 468.99 L1337.21 468.29 L1342.9 467.63 L1348.59 467.01 L1354.29 466.44 L1359.98 465.91 L1365.67 465.43 L1371.36 464.99 L1377.05 464.6 L1382.74 464.26 L1388.43 463.96 L1394.13 463.71 L1399.82 463.51 L1405.51 463.35 L1411.2 463.25 L1416.89 463.19 L1422.58 463.19 L1428.27 463.23 L1433.97 463.33 L1439.66 463.47 L1445.35 463.67 L1451.04 463.91 L1456.73 464.21 L1462.42 464.55 L1468.11 464.95 L1473.81 465.39 L1479.5 465.89 L1485.19 466.43 L1490.88 467.02 L1496.57 467.66 L1502.26 468.35 L1507.95 469.09 L1513.65 469.87 L1519.34 470.7 L1525.03 471.58 L1530.72 472.5 L1536.41 473.47 L1542.1 474.48 L1547.79 475.53 L1553.49 476.62 L1559.18 477.76 L1564.87 478.93 L1570.56 480.15 L1576.25 481.4 L1581.94 482.69 L1587.63 484.02 L1593.33 485.38 L1599.02 486.78 L1604.71 488.21 L1610.4 489.67 L1616.09 491.16 L1621.78 492.67 L1627.47 494.22 L1633.17 495.79 L1638.86 497.39 L1644.55 499.01 L1650.24 500.65 L1655.93 502.32 L1661.62 504 L1667.31 505.7 L1673.01 507.41 L1678.7 509.14 L1684.39 510.89 L1690.08 512.64 L1695.77 514.41 L1701.46 516.18 L1707.15 517.96 L1712.85 519.75 L1718.54 521.54 L1724.23 523.33 L1729.92 525.12 L1735.61 526.91 L1741.3 528.7 L1746.99 530.49 L1752.69 532.26 L1758.38 534.04 L1764.07 535.8 L1769.76 537.55 L1775.45 539.3 L1781.14 541.02 L1786.83 542.74 L1792.53 544.44 L1798.22 546.12 L1803.91 547.78 L1809.6 549.42 L1815.29 551.04 L1820.98 552.63 L1826.67 554.2 L1832.37 555.75 L1838.06 557.27 L1843.75 558.76 L1849.44 560.22 L1855.13 561.65 L1860.82 563.05 L1866.51 564.42 L1872.21 565.75 L1877.9 567.05 L1883.59 568.32 L1889.28 569.54 L1894.97 570.73 L1900.66 571.88 L1906.35 572.99 L1912.05 574.06 L1917.74 575.09 L1923.43 576.08 L1929.12 577.03 L1934.81 577.94 L1940.5 578.8 L1946.19 579.62 L1951.89 580.39 L1957.58 581.12 L1963.27 581.81 L1968.96 582.45 L1974.65 583.04 L1980.34 583.59 L1986.03 584.09 L1991.73 584.55 L1997.42 584.97 L2003.11 585.33 L2008.8 585.65 L2014.49 585.93 L2020.18 586.16 L2025.87 586.34 L2031.57 586.48 L2037.26 586.58 L2042.95 586.63 L2048.64 586.64 L2054.33 586.6 L2060.02 586.52 L2065.71 586.4 L2071.41 586.24 L2077.1 586.03 L2082.79 585.79 L2088.48 585.5 L2094.17 585.18 L2099.86 584.81 L2105.55 584.41 L2111.25 583.98 L2116.94 583.5 L2122.63 582.99 L2128.32 582.45 L2134.01 581.87 L2139.7 581.27 L2145.39 580.63 L2151.09 579.96 L2156.78 579.26 L2162.47 578.53 L2168.16 577.78 L2173.85 577 L2179.54 576.2 L2185.23 575.38 L2190.93 574.53 L2196.62 573.66 L2202.31 572.78 L2208 571.87 L2213.69 570.95 L2219.38 570.02 L2225.07 569.06 L2230.77 568.1 L2236.46 567.13 L2242.15 566.14 L2247.84 565.15 L2253.53 564.15 L2259.22 563.14 L2264.91 562.13 L2270.61 561.11 L2276.3 560.09 L2281.99 559.07 L2287.68 558.05 L2293.37 557.04 L2299.06 556.02" fill="none" stroke="rgba(42,46,236,0.3)" stroke-width="4.17" stroke-linejoin="round" stroke-linecap="square"/>
<path d="M216 591.84 L221.69 594.84 L227.38 597.8 L233.07 600.7 L238.77 603.54 L244.46 606.33 L250.15 609.05 L255.84 611.71 L261.53 614.3 L267.22 616.82 L272.91 619.26 L278.61 621.63 L284.3 623.92 L289.99 626.13 L295.68 628.26 L301.37 630.31 L307.06 632.26 L312.75 634.13 L318.45 635.9 L324.14 637.58 L329.83 639.17 L335.52 640.66 L341.21 642.05 L346.9 643.34 L352.59 644.53 L358.29 645.62 L363.98 646.6 L369.67 647.48 L375.36 648.26 L381.05 648.92 L386.74 649.49 L392.43 649.94 L398.13 650.29 L403.82 650.53 L409.51 650.66 L415.2 650.69 L420.89 650.6 L426.58 650.41 L432.27 650.11 L437.97 649.71 L443.66 649.19 L449.35 648.57 L455.04 647.85 L460.73 647.02 L466.42 646.09 L472.11 645.06 L477.81 643.92 L483.5 642.69 L489.19 641.36 L494.88 639.93 L500.57 638.41 L506.26 636.79 L511.95 635.08 L517.65 633.28 L523.34 631.4 L529.03 629.43 L534.72 627.37 L540.41 625.24 L546.1 623.03 L551.79 620.74 L557.49 618.38 L563.18 615.95 L568.87 613.45 L574.56 610.88 L580.25 608.25 L585.94 605.57 L591.63 602.82 L597.33 600.03 L603.02 597.18 L608.71 594.29 L614.4 591.35 L620.09 588.37 L625.78 585.36 L631.47 582.31 L637.17 579.23 L642.86 576.12 L648.55 572.99 L654.24 569.84 L659.93 566.67 L665.62 563.48 L671.31 560.29 L677.01 557.09 L682.7 553.89 L688.39 550.68 L694.08 547.49 L699.77 544.29 L705.46 541.11 L711.15 537.94 L716.85 534.79 L722.54 531.66 L728.23 528.55 L733.92 525.47 L739.61 522.42 L745.3 519.41 L750.99 516.43 L756.69 513.49 L762.38 510.59 L768.07 507.74 L773.76 504.94 L779.45 502.19 L785.14 499.49 L790.83 496.85 L796.53 494.27 L802.22 491.76 L807.91 489.3 L813.6 486.92 L819.29 484.6 L824.98 482.36 L830.67 480.19 L836.37 478.1 L842.06 476.08 L847.75 474.14 L853.44 472.29 L859.13 470.52 L864.82 468.83 L870.51 467.23 L876.21 465.72 L881.9 464.3 L887.59 462.97 L893.28 461.72 L898.97 460.57 L904.66 459.52 L910.35 458.55 L916.05 457.68 L921.74 456.91 L927.43 456.23 L933.12 455.65 L938.81 455.16 L944.5 454.76 L950.19 454.46 L955.89 454.26 L961.58 454.15 L967.27 454.14 L972.96 454.22 L978.65 454.39 L984.34 454.66 L990.03 455.01 L995.73 455.46 L1001.42 455.99 L1007.11 456.62 L1012.8 457.33 L1018.49 458.13 L1024.18 459.01 L1029.87 459.97 L1035.57 461.01 L1041.26 462.13 L1046.95 463.33 L1052.64 464.61 L1058.33 465.95 L1064.02 467.37 L1069.71 468.86 L1075.41 470.41 L1081.1 472.03 L1086.79 473.7 L1092.48 475.44 L1098.17 477.23 L1103.86 479.08 L1109.55 480.97 L1115.25 482.92 L1120.94 484.91 L1126.63 486.94 L1132.32 489.01 L1138.01 491.12 L1143.7 493.26 L1149.39 495.43 L1155.09 497.63 L1160.78 499.85 L1166.47 502.1 L1172.16 504.36 L1177.85 506.63 L1183.54 508.92 L1189.23 511.22 L1194.93 513.52 L1200.62 515.83 L1206.31 518.13 L1212 520.43 L1217.69 522.72 L1223.38 525 L1229.07 527.27 L1234.77 529.52 L1240.46 531.75 L1246.15 533.95 L1251.84 536.13 L1257.53 538.28 L1263.22 540.4 L1268.91 542.49 L1274.61 544.54 L1280.3 546.54 L1285.99 548.51 L1291.68 550.43 L1297.37 552.3 L1303.06 554.11 L1308.75 555.88 L1314.45 557.59 L1320.14 559.24 L1325.83 560.83 L1331.52 562.35 L1337.21 563.82 L1342.9 565.21 L1348.59 566.54 L1354.29 567.8 L1359.98 568.98 L1365.67 570.09 L1371.36 571.12 L1377.05 572.08 L1382.74 572.96 L1388.43 573.76 L1394.13 574.48 L1399.82 575.11 L1405.51 575.67 L1411.2 576.14 L1416.89 576.53 L1422.58 576.83 L1428.27 577.04 L1433.97 577.17 L1439.66 577.22 L1445.35 577.18 L1451.04 577.05 L1456.73 576.83 L1462.42 576.53 L1468.11 576.15 L1473.81 575.67 L1479.5 575.12 L1485.19 574.48 L1490.88 573.75 L1496.57 572.94 L1502.26 572.06 L1507.95 571.09 L1513.65 570.04 L1519.34 568.91 L1525.03 567.7 L1530.72 566.42 L1536.41 565.07 L1542.1 563.64 L1547.79 562.14 L1553.49 560.58 L1559.18 558.95 L1564.87 557.25 L1570.56 555.49 L1576.25 553.67 L1581.94 551.79 L1587.63 549.85 L1593.33 547.86 L1599.02 545.82 L1604.71 543.74 L1610.4 541.6 L1616.09 539.43 L1621.78 537.21 L1627.47 534.95 L1633.17 532.66 L1638.86 530.34 L1644.55 527.99 L1650.24 525.62 L1655.93 523.22 L1661.62 520.8 L1667.31 518.37 L1673.01 515.92 L1678.7 513.46 L1684.39 511 L1690.08 508.53 L1695.77 506.06 L1701.46 503.6 L1707.15 501.14 L1712.85 498.69 L1718.54 496.25 L1724.23 493.82 L1729.92 491.42 L1735.61 489.04 L1741.3 486.68 L1746.99 484.35 L1752.69 482.06 L1758.38 479.79 L1764.07 477.57 L1769.76 475.38 L1775.45 473.24 L1781.14 471.15 L1786.83 469.11 L1792.53 467.11 L1798.22 465.18 L1803.91 463.3 L1809.6 461.48 L1815.29 459.72 L1820.98 458.04 L1826.67 456.41 L1832.37 454.86 L1838.06 453.39 L1843.75 451.98 L1849.44 450.66 L1855.13 449.41 L1860.82 448.25 L1866.51 447.16 L1872.21 446.17 L1877.9 445.26 L1883.59 444.44 L1889.28 443.7 L1894.97 443.06 L1900.66 442.51 L1906.35 442.06 L1912.05 441.7 L1917.74 441.43 L1923.43 441.26 L1929.12 441.19 L1934.81 441.22 L1940.5 441.34 L1946.19 441.57 L1951.89 441.89 L1957.58 442.31 L1963.27 442.83 L1968.96 443.45 L1974.65 444.17 L1980.34 444.99 L1986.03 445.9 L1991.73 446.92 L1997.42 448.03 L2003.11 449.23 L2008.8 450.54 L2014.49 451.93 L2020.18 453.42 L2025.87 455.01 L2031.57 456.68 L2037.26 458.44 L2042.95 460.3 L2048.64 462.23 L2054.33 464.26 L2060.02 466.36 L2065.71 468.55 L2071.41 470.82 L2077.1 473.16 L2082.79 475.58 L2088.48 478.07 L2094.17 480.62 L2099.86 483.25 L2105.55 485.94 L2111.25 488.7 L2116.94 491.51 L2122.63 494.38 L2128.32 497.31 L2134.01 500.28 L2139.7 503.3 L2145.39 506.37 L2151.09 509.48 L2156.78 512.63 L2162.47 515.82 L2168.16 519.03 L2173.85 522.28 L2179.54 525.55 L2185.23 528.85 L2190.93 532.16 L2196.62 535.49 L2202.31 538.83 L2208 542.18 L2213.69 545.53 L2219.38 548.89 L2225.07 552.24 L2230.77 555.59 L2236.46 558.93 L2242.15 562.26 L2247.84 565.57 L2253.53 568.86 L2259.22 572.13 L2264.91 575.37 L2270.61 578.59 L2276.3 581.77 L2281.99 584.91 L2287.68 588.02 L2293.37 591.08 L2299.06 594.1" fill="none" stroke="rgba(42,46,236,0.3)" stroke-width="4.17" stroke-linejoin="round" stroke-linecap="square"/>
<path d="M216 650.77 L221.69 650.22 L227.38 649.58 L233.07 648.86 L238.77 648.05 L244.46 647.15 L250.15 646.17 L255.84 645.1 L261.53 643.95 L267.22 642.71 L272.91 641.4 L278.61 640.01 L284.3 638.53 L289.99 636.98 L295.68 635.36 L301.37 633.66 L307.06 631.89 L312.75 630.04 L318.45 628.13 L324.14 626.15 L329.83 624.11 L335.52 622.01 L341.21 619.84 L346.9 617.62 L352.59 615.33 L358.29 613 L363.98 610.61 L369.67 608.17 L375.36 605.69 L381.05 603.16 L386.74 600.59 L392.43 597.98 L398.13 595.33 L403.82 592.65 L409.51 589.93 L415.2 587.19 L420.89 584.42 L426.58 581.62 L432.27 578.8 L437.97 575.97 L443.66 573.11 L449.35 570.25 L455.04 567.37 L460.73 564.49 L466.42 561.6 L472.11 558.71 L477.81 555.82 L483.5 552.93 L489.19 550.05 L494.88 547.17 L500.57 544.31 L506.26 541.46 L511.95 538.63 L517.65 535.81 L523.34 533.02 L529.03 530.25 L534.72 527.51 L540.41 524.8 L546.1 522.12 L551.79 519.47 L557.49 516.85 L563.18 514.28 L568.87 511.75 L574.56 509.26 L580.25 506.81 L585.94 504.41 L591.63 502.06 L597.33 499.76 L603.02 497.51 L608.71 495.32 L614.4 493.18 L620.09 491.1 L625.78 489.08 L631.47 487.12 L637.17 485.23 L642.86 483.39 L648.55 481.62 L654.24 479.92 L659.93 478.29 L665.62 476.72 L671.31 475.22 L677.01 473.79 L682.7 472.44 L688.39 471.15 L694.08 469.94 L699.77 468.8 L705.46 467.73 L711.15 466.74 L716.85 465.82 L722.54 464.98 L728.23 464.2 L733.92 463.51 L739.61 462.88 L745.3 462.34 L750.99 461.86 L756.69 461.46 L762.38 461.13 L768.07 460.87 L773.76 460.69 L779.45 460.58 L785.14 460.53 L790.83 460.56 L796.53 460.66 L802.22 460.82 L807.91 461.05 L813.6 461.35 L819.29 461.71 L824.98 462.13 L830.67 462.62 L836.37 463.16 L842.06 463.77 L847.75 464.43 L853.44 465.15 L859.13 465.92 L864.82 466.75 L870.51 467.63 L876.21 468.55 L881.9 469.53 L887.59 470.54 L893.28 471.6 L898.97 472.71 L904.66 473.85 L910.35 475.03 L916.05 476.24 L921.74 477.49 L927.43 478.77 L933.12 480.07 L938.81 481.4 L944.5 482.76 L950.19 484.14 L955.89 485.54 L961.58 486.95 L967.27 488.38 L972.96 489.83 L978.65 491.28 L984.34 492.74 L990.03 494.21 L995.73 495.68 L1001.42 497.15 L1007.11 498.62 L1012.8 500.09 L1018.49 501.55 L1024.18 503 L1029.87 504.45 L1035.57 505.88 L1041.26 507.3 L1046.95 508.7 L1052.64 510.08 L1058.33 511.44 L1064.02 512.78 L1069.71 514.09 L1075.41 515.38 L1081.1 516.64 L1086.79 517.87 L1092.48 519.06 L1098.17 520.23 L1103.86 521.35 L1109.55 522.44 L1115.25 523.49 L1120.94 524.51 L1126.63 525.47 L1132.32 526.4 L1138.01 527.28 L1143.7 528.12 L1149.39 528.91 L1155.09 529.65 L1160.78 530.34 L1166.47 530.98 L1172.16 531.58 L1177.85 532.12 L1183.54 532.6 L1189.23 533.04 L1194.93 533.42 L1200.62 533.75 L1206.31 534.02 L1212 534.24 L1217.69 534.4 L1223.38 534.51 L1229.07 534.56 L1234.77 534.56 L1240.46 534.5 L1246.15 534.38 L1251.84 534.21 L1257.53 533.99 L1263.22 533.71 L1268.91 533.38 L1274.61 533 L1280.3 532.56 L1285.99 532.07 L1291.68 531.53 L1297.37 530.94 L1303.06 530.29 L1308.75 529.61 L1314.45 528.87 L1320.14 528.09 L1325.83 527.26 L1331.52 526.39 L1337.21 525.47 L1342.9 524.52 L1348.59 523.52 L1354.29 522.49 L1359.98 521.42 L1365.67 520.32 L1371.36 519.18 L1377.05 518.02 L1382.74 516.82 L1388.43 515.59 L1394.13 514.34 L1399.82 513.07 L1405.51 511.77 L1411.2 510.46 L1416.89 509.12 L1422.58 507.78 L1428.27 506.41 L1433.97 505.04 L1439.66 503.66 L1445.35 502.27 L1451.04 500.87 L1456.73 499.48 L1462.42 498.08 L1468.11 496.69 L1473.81 495.3 L1479.5 493.91 L1485.19 492.54 L1490.88 491.17 L1496.57 489.82 L1502.26 488.49 L1507.95 487.17 L1513.65 485.88 L1519.34 484.6 L1525.03 483.35 L1530.72 482.13 L1536.41 480.94 L1542.1 479.78 L1547.79 478.65 L1553.49 477.56 L1559.18 476.5 L1564.87 475.49 L1570.56 474.52 L1576.25 473.59 L1581.94 472.7 L1587.63 471.86 L1593.33 471.08 L1599.02 470.34 L1604.71 469.65 L1610.4 469.02 L1616.09 468.45 L1621.78 467.93 L1627.47 467.47 L1633.17 467.08 L1638.86 466.74 L1644.55 466.47 L1650.24 466.26 L1655.93 466.11 L1661.62 466.03 L1667.31 466.02 L1673.01 466.08 L1678.7 466.2 L1684.39 466.4 L1690.08 466.66 L1695.77 467 L1701.46 467.4 L1707.15 467.88 L1712.85 468.43 L1718.54 469.05 L1724.23 469.75 L1729.92 470.52 L1735.61 471.36 L1741.3 472.27 L1746.99 473.25 L1752.69 474.31 L1758.38 475.44 L1764.07 476.64 L1769.76 477.91 L1775.45 479.25 L1781.14 480.66 L1786.83 482.14 L1792.53 483.68 L1798.22 485.29 L1803.91 486.97 L1809.6 488.72 L1815.29 490.52 L1820.98 492.39 L1826.67 494.32 L1832.37 496.31 L1838.06 498.35 L1843.75 500.46 L1849.44 502.61 L1855.13 504.82 L1860.82 507.09 L1866.51 509.4 L1872.21 511.76 L1877.9 514.16 L1883.59 516.61 L1889.28 519.1 L1894.97 521.62 L1900.66 524.19 L1906.35 526.79 L1912.05 529.42 L1917.74 532.08 L1923.43 534.77 L1929.12 537.49 L1934.81 540.23 L1940.5 542.98 L1946.19 545.76 L1951.89 548.55 L1957.58 551.36 L1963.27 554.17 L1968.96 556.99 L1974.65 559.82 L1980.34 562.65 L1986.03 565.47 L1991.73 568.3 L1997.42 571.12 L2003.11 573.93 L2008.8 576.73 L2014.49 579.51 L2020.18 582.28 L2025.87 585.02 L2031.57 587.75 L2037.26 590.45 L2042.95 593.12 L2048.64 595.76 L2054.33 598.37 L2060.02 600.95 L2065.71 603.49 L2071.41 605.98 L2077.1 608.43 L2082.79 610.84 L2088.48 613.2 L2094.17 615.51 L2099.86 617.77 L2105.55 619.97 L2111.25 622.12 L2116.94 624.2 L2122.63 626.23 L2128.32 628.19 L2134.01 630.09 L2139.7 631.92 L2145.39 633.68 L2151.09 635.37 L2156.78 636.98 L2162.47 638.53 L2168.16 639.99 L2173.85 641.38 L2179.54 642.69 L2185.23 643.92 L2190.93 645.07 L2196.62 646.14 L2202.31 647.12 L2208 648.02 L2213.69 648.83 L2219.38 649.56 L2225.07 650.2 L2230.77 650.75 L2236.46 651.21 L2242.15 651.58 L2247.84 651.86 L2253.53 652.06 L2259.22 652.16 L2264.91 652.17 L2270.61 652.1 L2276.3 651.93 L2281.99 651.67 L2287.68 651.33 L2293.37 650.89 L2299.06 650.36" fill="none" stroke="rgba(42,46,236,0.3)" stroke-width="4.17" stroke-linejoin="round" stroke-linecap="square"/>
<text x="216.2" y="1342.5" text-anchor="middle" font-family="DejaVu Sans" font-size="40" letter-spacing="-1.5" fill="#262626">0</text>
<text x="499.99" y="1342.5" text-anchor="middle" font-family="DejaVu Sans" font-size="40" letter-spacing="-1.5" fill="#262626">50</text>
<text x="783.77" y="1342.5" text-anchor="middle" font-family="DejaVu Sans" font-size="40" letter-spacing="-1.5" fill="#262626">100</text>
<text x="1068.56" y="1342.5" text-anchor="middle" font-family="DejaVu Sans" font-size="40" letter-spacing="-1.5" fill="#262626">150</text>
<text x="1353.84" y="1342.5" text-anchor="middle" font-family="DejaVu Sans" font-size="40" letter-spacing="-1.5" fill="#262626">200</text>
<text x="1638.63" y="1342.5" text-anchor="middle" font-family="DejaVu Sans" font-size="40" letter-spacing="-1.5" fill="#262626">250</text>
<text x="1922.91" y="1342.5" text-anchor="middle" font-family="DejaVu Sans" font-size="40" letter-spacing="-1.5" fill="#262626">300</text>
<text x="2207.7" y="1342.5" text-anchor="middle" font-family="DejaVu Sans" font-size="40" letter-spacing="-1.5" fill="#262626">350</text>
<text x="102.6" y="271.7" text-anchor="end" font-family="DejaVu Sans" font-size="40" letter-spacing="-1.5" fill="#262626">5</text>
<text x="101.7" y="547.83" text-anchor="end" font-family="DejaVu Sans" font-size="40" letter-spacing="-1.5" fill="#262626">0</text>
<text x="100" y="825.22" text-anchor="end" font-family="DejaVu Sans" font-size="40" letter-spacing="-1.5" fill="#262626">&#8722;5</text>
<text x="99.5" y="1099.35" text-anchor="end" font-family="DejaVu Sans" font-size="40" letter-spacing="-1.5" fill="#262626">&#8722;10</text>
<text x="1257.2" y="1392.55" text-anchor="middle" font-family="DejaVu Sans" font-size="41.5" fill="#262626">day</text>
</svg>
</body></html>
